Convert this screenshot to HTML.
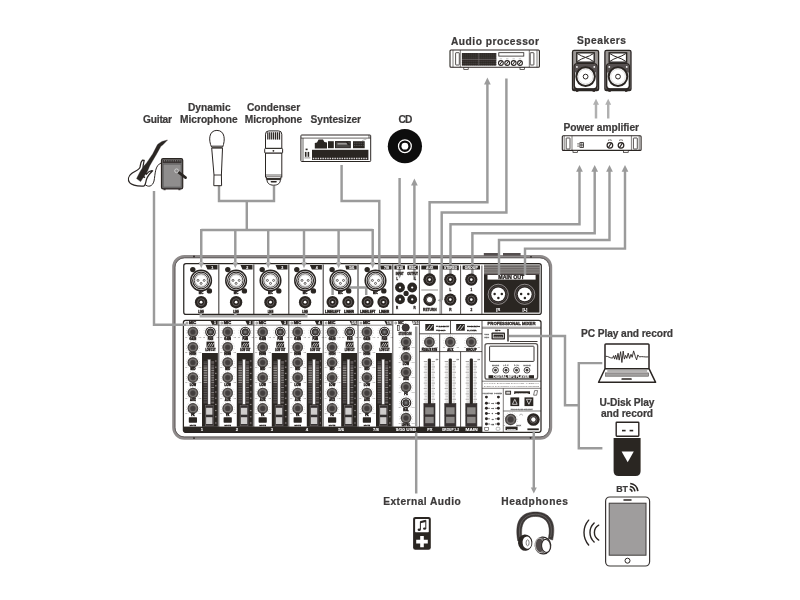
<!DOCTYPE html>
<html lang="en">
<head>
<meta charset="utf-8">
<title>Mixer connection diagram</title>
<style>
html,body{margin:0;padding:0;background:#fff;}
body{width:800px;height:600px;overflow:hidden;font-family:"Liberation Sans",sans-serif;}
svg{display:block;}
</style>
</head>
<body>
<svg width="800" height="600" viewBox="0 0 800 600" font-family="'Liberation Sans', sans-serif" font-weight="bold">
<rect width="800" height="600" fill="#fff"/>
<defs><filter id="soft" x="0" y="0" width="800" height="600" filterUnits="userSpaceOnUse"><feGaussianBlur stdDeviation="0.4"/></filter></defs>
<g filter="url(#soft)">
<g id="mixer-base">
<rect x="173.8" y="256.6" width="376.8" height="181.5" rx="10.5" fill="#fff" stroke="#8f8b8b" stroke-width="3.2" />
<rect x="174.9" y="257.7" width="374.6" height="179.3" rx="9.6" fill="none" stroke="#5f5a5a" stroke-width="0.9" />
<rect x="483.8" y="253" width="14.2" height="2.7" rx="0" fill="#55504f" stroke="none" stroke-width="1" />
<rect x="503" y="253" width="17.6" height="2.7" rx="0" fill="#55504f" stroke="none" stroke-width="1" />
<circle cx="194" cy="256.5" r="0.9" fill="#2a2523" stroke="none" stroke-width="1"/>
<circle cx="531" cy="256.8" r="0.9" fill="#2a2523" stroke="none" stroke-width="1"/>
<circle cx="194" cy="438.1" r="0.9" fill="#2a2523" stroke="none" stroke-width="1"/>
<circle cx="530.5" cy="437.8" r="0.9" fill="#2a2523" stroke="none" stroke-width="1"/>
<rect x="183.75" y="263.5" width="357.5" height="50.9" rx="2.2" fill="#fff" stroke="#2a2523" stroke-width="1.25" />
<rect x="183.4" y="320.4" width="357.6" height="111.9" rx="2.2" fill="#fff" stroke="#2a2523" stroke-width="1.25" />
<path d="M218.8 264.5 V313.9" stroke="#4a4645" stroke-width="1.15"/>
<path d="M253.8 264.5 V313.9" stroke="#4a4645" stroke-width="1.15"/>
<path d="M288.8 264.5 V313.9" stroke="#4a4645" stroke-width="1.15"/>
<path d="M323.2 264.5 V313.9" stroke="#4a4645" stroke-width="1.15"/>
<path d="M358 264.5 V313.9" stroke="#4a4645" stroke-width="1.15"/>
<path d="M392.8 264.5 V313.9" stroke="#4a4645" stroke-width="1.15"/>
<path d="M419.4 265.5 V313.9" stroke="#2a2523" stroke-width="0.8"/>
<path d="M460.6 265.5 V313.9" stroke="#2a2523" stroke-width="0.8"/>
<path d="M481.9 265.5 V313.9" stroke="#2a2523" stroke-width="0.8"/>
<path d="M440.1 265.5 V313.9 M441.6 265.5 V313.9" stroke="#2a2523" stroke-width="0.6"/>
<polygon points="205.5,265 217.5,265 217.5,269.4 207.5,269.4" fill="#2a2523"/>
<text x="212.3" y="268.9" font-size="3.6" text-anchor="middle" fill="#fff" stroke="#fff" stroke-width="0.1">1</text>
<polygon points="240.5,265 252.5,265 252.5,269.4 242.5,269.4" fill="#2a2523"/>
<text x="247.3" y="268.9" font-size="3.6" text-anchor="middle" fill="#fff" stroke="#fff" stroke-width="0.1">2</text>
<polygon points="275.5,265 287.5,265 287.5,269.4 277.5,269.4" fill="#2a2523"/>
<text x="282.3" y="268.9" font-size="3.6" text-anchor="middle" fill="#fff" stroke="#fff" stroke-width="0.1">3</text>
<polygon points="309.9,265 321.9,265 321.9,269.4 311.9,269.4" fill="#2a2523"/>
<text x="316.7" y="268.9" font-size="3.6" text-anchor="middle" fill="#fff" stroke="#fff" stroke-width="0.1">4</text>
<polygon points="345.2,265.4 356.7,265.4 356.7,269.4 346.2,269.4" fill="#2a2523"/>
<text x="351.75" y="268.9" font-size="3.6" text-anchor="middle" fill="#fff" stroke="#fff" stroke-width="0.1">5/6</text>
<polygon points="380,265.4 391.5,265.4 391.5,269.4 381,269.4" fill="#2a2523"/>
<text x="386.55" y="268.9" font-size="3.6" text-anchor="middle" fill="#fff" stroke="#fff" stroke-width="0.1">7/8</text>
<rect x="484" y="264.8" width="55.5" height="47.8" rx="0" fill="#2a2523" stroke="none" stroke-width="1" />
<rect x="484" y="264.8" width="55.5" height="9.5" rx="0" fill="#8a8684" stroke="none" stroke-width="1" />
<path d="M484 266.4 H539.5" stroke="#4d4948" stroke-width="0.55"/>
<path d="M484 268.7 H539.5" stroke="#4d4948" stroke-width="0.55"/>
<path d="M484 271 H539.5" stroke="#4d4948" stroke-width="0.55"/>
<path d="M484 273.3 H539.5" stroke="#4d4948" stroke-width="0.55"/>
<rect x="487.5" y="275" width="48.1" height="4.6" rx="0" fill="#fff" stroke="none" stroke-width="1" />
<text x="511.3" y="279.2" font-size="4.7" text-anchor="middle" textLength="26" lengthAdjust="spacingAndGlyphs" fill="#2a2523" stroke="#2a2523" stroke-width="0.28">MAIN OUT</text>
<circle cx="187" cy="323" r="1" fill="none" stroke="#2a2523" stroke-width="0.5"/>
<text x="192.6" y="324.3" font-size="3.3" text-anchor="middle" textLength="7.4" lengthAdjust="spacingAndGlyphs" fill="#2a2523" stroke="#2a2523" stroke-width="0.35">MIC</text>
<polygon points="210.5,321 217.7,321 217.7,324.8 212.3,324.8" fill="#2a2523"/>
<text x="214.9" y="324.3" font-size="3.6" text-anchor="middle" fill="#fff" stroke="#fff" stroke-width="0.1">1</text>
<path d="M184 325.2 H218.8" stroke="#2a2523" stroke-width="0.5"/>
<path d="M188.69 337.02 A6.55 6.55 0 1 1 197.11 337.02" fill="none" stroke="#8f8b8a" stroke-width="0.7" stroke-dasharray="0.45 1.75"/>
<circle cx="192.9" cy="332" r="4.7" fill="#787472" stroke="#35312f" stroke-width="1.25"/>
<circle cx="192.9" cy="332" r="4.7" fill="none" stroke="#706c6a" stroke-width="1.25" stroke-dasharray="0.5 0.9"/>
<circle cx="192.9" cy="332" r="2.55" fill="#423e3d" stroke="#4d4948" stroke-width="0.5"/>
<text x="186.05" y="337.65" font-size="1.9" text-anchor="middle" fill="#8a8685">-15</text>
<text x="199.75" y="337.65" font-size="1.9" text-anchor="middle" fill="#8a8685">+15</text>
<text x="192.9" y="339.9" font-size="2.7" text-anchor="middle" fill="#2a2523" stroke="#2a2523" stroke-width="0.42">GAIN</text>
<path d="M188.69 352.32 A6.55 6.55 0 1 1 197.11 352.32" fill="none" stroke="#8f8b8a" stroke-width="0.7" stroke-dasharray="0.45 1.75"/>
<circle cx="192.9" cy="347.3" r="4.7" fill="#787472" stroke="#35312f" stroke-width="1.25"/>
<circle cx="192.9" cy="347.3" r="4.7" fill="none" stroke="#706c6a" stroke-width="1.25" stroke-dasharray="0.5 0.9"/>
<circle cx="192.9" cy="347.3" r="2.55" fill="#423e3d" stroke="#4d4948" stroke-width="0.5"/>
<text x="186.05" y="352.95" font-size="1.9" text-anchor="middle" fill="#8a8685">-15</text>
<text x="199.75" y="352.95" font-size="1.9" text-anchor="middle" fill="#8a8685">+15</text>
<text x="192.9" y="355.2" font-size="2.7" text-anchor="middle" fill="#2a2523" stroke="#2a2523" stroke-width="0.42">HIGH</text>
<path d="M188.69 367.52 A6.55 6.55 0 1 1 197.11 367.52" fill="none" stroke="#8f8b8a" stroke-width="0.7" stroke-dasharray="0.45 1.75"/>
<circle cx="192.9" cy="362.5" r="4.7" fill="#787472" stroke="#35312f" stroke-width="1.25"/>
<circle cx="192.9" cy="362.5" r="4.7" fill="none" stroke="#706c6a" stroke-width="1.25" stroke-dasharray="0.5 0.9"/>
<circle cx="192.9" cy="362.5" r="2.55" fill="#423e3d" stroke="#4d4948" stroke-width="0.5"/>
<text x="186.05" y="368.15" font-size="1.9" text-anchor="middle" fill="#8a8685">-15</text>
<text x="199.75" y="368.15" font-size="1.9" text-anchor="middle" fill="#8a8685">+15</text>
<text x="192.9" y="370.4" font-size="2.7" text-anchor="middle" fill="#2a2523" stroke="#2a2523" stroke-width="0.42">MID</text>
<path d="M188.69 382.62 A6.55 6.55 0 1 1 197.11 382.62" fill="none" stroke="#8f8b8a" stroke-width="0.7" stroke-dasharray="0.45 1.75"/>
<circle cx="192.9" cy="377.6" r="4.7" fill="#787472" stroke="#35312f" stroke-width="1.25"/>
<circle cx="192.9" cy="377.6" r="4.7" fill="none" stroke="#706c6a" stroke-width="1.25" stroke-dasharray="0.5 0.9"/>
<circle cx="192.9" cy="377.6" r="2.55" fill="#423e3d" stroke="#4d4948" stroke-width="0.5"/>
<text x="186.05" y="383.25" font-size="1.9" text-anchor="middle" fill="#8a8685">-15</text>
<text x="199.75" y="383.25" font-size="1.9" text-anchor="middle" fill="#8a8685">+15</text>
<text x="192.9" y="385.5" font-size="2.7" text-anchor="middle" fill="#2a2523" stroke="#2a2523" stroke-width="0.42">LOW</text>
<path d="M188.69 398.12 A6.55 6.55 0 1 1 197.11 398.12" fill="none" stroke="#8f8b8a" stroke-width="0.7" stroke-dasharray="0.45 1.75"/>
<circle cx="192.9" cy="393.1" r="4.7" fill="#787472" stroke="#35312f" stroke-width="1.25"/>
<circle cx="192.9" cy="393.1" r="4.7" fill="none" stroke="#706c6a" stroke-width="1.25" stroke-dasharray="0.5 0.9"/>
<circle cx="192.9" cy="393.1" r="2.55" fill="#423e3d" stroke="#4d4948" stroke-width="0.5"/>
<text x="186.05" y="398.75" font-size="1.9" text-anchor="middle" fill="#8a8685">-15</text>
<text x="199.75" y="398.75" font-size="1.9" text-anchor="middle" fill="#8a8685">+15</text>
<text x="192.9" y="401" font-size="2.7" text-anchor="middle" fill="#2a2523" stroke="#2a2523" stroke-width="0.42">AUX</text>
<path d="M188.69 413.42 A6.55 6.55 0 1 1 197.11 413.42" fill="none" stroke="#8f8b8a" stroke-width="0.7" stroke-dasharray="0.45 1.75"/>
<circle cx="192.9" cy="408.4" r="4.7" fill="#787472" stroke="#35312f" stroke-width="1.25"/>
<circle cx="192.9" cy="408.4" r="4.7" fill="none" stroke="#706c6a" stroke-width="1.25" stroke-dasharray="0.5 0.9"/>
<circle cx="192.9" cy="408.4" r="2.55" fill="#423e3d" stroke="#4d4948" stroke-width="0.5"/>
<text x="186.05" y="414.05" font-size="1.9" text-anchor="middle" fill="#8a8685">-15</text>
<text x="199.75" y="414.05" font-size="1.9" text-anchor="middle" fill="#8a8685">+15</text>
<text x="192.9" y="416.3" font-size="2.7" text-anchor="middle" fill="#2a2523" stroke="#2a2523" stroke-width="0.42">FX</text>
<path d="M206.29 337.02 A6.55 6.55 0 1 1 214.71 337.02" fill="none" stroke="#8f8b8a" stroke-width="0.7" stroke-dasharray="0.45 1.75"/>
<circle cx="210.5" cy="332" r="4.75" fill="#fff" stroke="#2a2523" stroke-width="1.1"/>
<circle cx="210.5" cy="332" r="3.15" fill="#514d4c" stroke="#2a2523" stroke-width="1"/>
<circle cx="210.5" cy="332" r="1.2" fill="#777" stroke="none" stroke-width="1"/>
<text x="203.65" y="337.65" font-size="1.9" text-anchor="middle" fill="#8a8685">-15</text>
<text x="217.35" y="337.65" font-size="1.9" text-anchor="middle" fill="#8a8685">+15</text>
<text x="210.5" y="339.9" font-size="2.7" text-anchor="middle" fill="#2a2523" stroke="#2a2523" stroke-width="0.42">PAN</text>
<rect x="206.5" y="341.6" width="7.8" height="5.9" rx="0" fill="#2a2523" stroke="none" stroke-width="1" />
<path d="M207.5 346.6 l2.2 -3.6 M209.6 346.6 l2.2 -3.6 M211.7 346.6 l2.2 -3.6" stroke="#fff" stroke-width="0.7"/>
<text x="210.5" y="350.6" font-size="2.8" text-anchor="middle" textLength="10" lengthAdjust="spacingAndGlyphs" fill="#2a2523" stroke="#2a2523" stroke-width="0.4">LOW CUT</text>
<rect x="202" y="353" width="15.9" height="73.8" rx="0" fill="#2a2523" stroke="none" stroke-width="1" />
<rect x="207.9" y="359.4" width="2.6" height="44.8" rx="0" fill="#f4f4f4" stroke="#6d6968" stroke-width="0.4" />
<path d="M203.6 362 H207.2" stroke="#6f6b69" stroke-width="0.75"/>
<path d="M211.3 362 H214.1" stroke="#aeaaa8" stroke-width="0.75"/>
<path d="M203.6 363.7 H207.2" stroke="#6f6b69" stroke-width="0.75"/>
<path d="M211.3 363.7 H214.1" stroke="#726e6c" stroke-width="0.75"/>
<path d="M203.6 365.4 H207.2" stroke="#6f6b69" stroke-width="0.75"/>
<path d="M211.3 365.4 H214.1" stroke="#726e6c" stroke-width="0.75"/>
<path d="M203.6 367.1 H207.2" stroke="#c4c0be" stroke-width="0.75"/>
<path d="M211.3 367.1 H214.1" stroke="#aeaaa8" stroke-width="0.75"/>
<path d="M203.6 368.8 H207.2" stroke="#c4c0be" stroke-width="0.75"/>
<path d="M211.3 368.8 H214.1" stroke="#aeaaa8" stroke-width="0.75"/>
<path d="M203.6 370.5 H207.2" stroke="#c4c0be" stroke-width="0.75"/>
<path d="M211.3 370.5 H214.1" stroke="#aeaaa8" stroke-width="0.75"/>
<path d="M203.6 372.2 H207.2" stroke="#c4c0be" stroke-width="0.75"/>
<path d="M211.3 372.2 H214.1" stroke="#aeaaa8" stroke-width="0.75"/>
<path d="M203.6 373.9 H207.2" stroke="#c4c0be" stroke-width="0.75"/>
<path d="M211.3 373.9 H214.1" stroke="#aeaaa8" stroke-width="0.75"/>
<path d="M203.6 375.6 H207.2" stroke="#c4c0be" stroke-width="0.75"/>
<path d="M211.3 375.6 H214.1" stroke="#aeaaa8" stroke-width="0.75"/>
<path d="M203.6 377.3 H207.2" stroke="#c4c0be" stroke-width="0.75"/>
<path d="M211.3 377.3 H214.1" stroke="#aeaaa8" stroke-width="0.75"/>
<path d="M203.6 379 H207.2" stroke="#c4c0be" stroke-width="0.75"/>
<path d="M211.3 379 H214.1" stroke="#aeaaa8" stroke-width="0.75"/>
<path d="M203.6 380.7 H207.2" stroke="#c4c0be" stroke-width="0.75"/>
<path d="M211.3 380.7 H214.1" stroke="#aeaaa8" stroke-width="0.75"/>
<path d="M203.6 382.4 H207.2" stroke="#c4c0be" stroke-width="0.75"/>
<path d="M211.3 382.4 H214.1" stroke="#aeaaa8" stroke-width="0.75"/>
<path d="M203.6 384.1 H207.2" stroke="#6f6b69" stroke-width="0.75"/>
<path d="M211.3 384.1 H214.1" stroke="#726e6c" stroke-width="0.75"/>
<path d="M203.6 385.8 H207.2" stroke="#6f6b69" stroke-width="0.75"/>
<path d="M211.3 385.8 H214.1" stroke="#726e6c" stroke-width="0.75"/>
<path d="M203.6 387.5 H207.2" stroke="#6f6b69" stroke-width="0.75"/>
<path d="M211.3 387.5 H214.1" stroke="#aeaaa8" stroke-width="0.75"/>
<path d="M203.6 389.2 H207.2" stroke="#6f6b69" stroke-width="0.75"/>
<path d="M211.3 389.2 H214.1" stroke="#726e6c" stroke-width="0.75"/>
<path d="M203.6 390.9 H207.2" stroke="#6f6b69" stroke-width="0.75"/>
<path d="M211.3 390.9 H214.1" stroke="#726e6c" stroke-width="0.75"/>
<path d="M203.6 392.6 H207.2" stroke="#6f6b69" stroke-width="0.75"/>
<path d="M211.3 392.6 H214.1" stroke="#aeaaa8" stroke-width="0.75"/>
<path d="M203.6 394.3 H207.2" stroke="#6f6b69" stroke-width="0.75"/>
<path d="M211.3 394.3 H214.1" stroke="#726e6c" stroke-width="0.75"/>
<path d="M203.6 396 H207.2" stroke="#6f6b69" stroke-width="0.75"/>
<path d="M211.3 396 H214.1" stroke="#726e6c" stroke-width="0.75"/>
<path d="M203.6 397.7 H207.2" stroke="#6f6b69" stroke-width="0.75"/>
<path d="M211.3 397.7 H214.1" stroke="#aeaaa8" stroke-width="0.75"/>
<path d="M203.6 399.4 H207.2" stroke="#6f6b69" stroke-width="0.75"/>
<path d="M211.3 399.4 H214.1" stroke="#726e6c" stroke-width="0.75"/>
<path d="M203.6 401.1 H207.2" stroke="#6f6b69" stroke-width="0.75"/>
<path d="M211.3 401.1 H214.1" stroke="#726e6c" stroke-width="0.75"/>
<path d="M203.6 402.8 H207.2" stroke="#6f6b69" stroke-width="0.75"/>
<path d="M211.3 402.8 H214.1" stroke="#aeaaa8" stroke-width="0.75"/>
<path d="M215.1 361 H216.5" stroke="#bab6b4" stroke-width="0.8"/>
<path d="M215.1 367.2 H216.5" stroke="#bab6b4" stroke-width="0.8"/>
<path d="M215.1 373.4 H216.5" stroke="#bab6b4" stroke-width="0.8"/>
<path d="M215.1 379.6 H216.5" stroke="#bab6b4" stroke-width="0.8"/>
<path d="M215.1 385.8 H216.5" stroke="#bab6b4" stroke-width="0.8"/>
<path d="M215.1 392 H216.5" stroke="#bab6b4" stroke-width="0.8"/>
<path d="M215.1 398.2 H216.5" stroke="#bab6b4" stroke-width="0.8"/>
<path d="M215.1 404.4 H216.5" stroke="#bab6b4" stroke-width="0.8"/>
<path d="M215.1 410.6 H216.5" stroke="#bab6b4" stroke-width="0.8"/>
<path d="M215.1 416.8 H216.5" stroke="#bab6b4" stroke-width="0.8"/>
<path d="M215.1 423 H216.5" stroke="#bab6b4" stroke-width="0.8"/>
<rect x="205.3" y="405.4" width="7.9" height="20.4" rx="0" fill="#353130" stroke="#7a7674" stroke-width="0.5" />
<rect x="206.1" y="407.8" width="6.3" height="6.9" rx="0" fill="#cfcdcc" stroke="none" stroke-width="1" />
<rect x="206.1" y="417.2" width="6.3" height="6.8" rx="0" fill="#cfcdcc" stroke="none" stroke-width="1" />
<rect x="188.8" y="417.3" width="8.2" height="5.4" rx="0.6" fill="#2a2523" stroke="none" stroke-width="1" />
<text x="192.9" y="425.8" font-size="2.3" text-anchor="middle" fill="#2a2523" stroke="#2a2523" stroke-width="0.28">MUTE</text>
<circle cx="221.8" cy="323" r="1" fill="none" stroke="#2a2523" stroke-width="0.5"/>
<text x="227.4" y="324.3" font-size="3.3" text-anchor="middle" textLength="7.4" lengthAdjust="spacingAndGlyphs" fill="#2a2523" stroke="#2a2523" stroke-width="0.35">MIC</text>
<polygon points="245.5,321 252.7,321 252.7,324.8 247.3,324.8" fill="#2a2523"/>
<text x="249.9" y="324.3" font-size="3.6" text-anchor="middle" fill="#fff" stroke="#fff" stroke-width="0.1">2</text>
<path d="M218.8 325.2 H253.8" stroke="#2a2523" stroke-width="0.5"/>
<path d="M223.49 337.02 A6.55 6.55 0 1 1 231.91 337.02" fill="none" stroke="#8f8b8a" stroke-width="0.7" stroke-dasharray="0.45 1.75"/>
<circle cx="227.7" cy="332" r="4.7" fill="#787472" stroke="#35312f" stroke-width="1.25"/>
<circle cx="227.7" cy="332" r="4.7" fill="none" stroke="#706c6a" stroke-width="1.25" stroke-dasharray="0.5 0.9"/>
<circle cx="227.7" cy="332" r="2.55" fill="#423e3d" stroke="#4d4948" stroke-width="0.5"/>
<text x="220.85" y="337.65" font-size="1.9" text-anchor="middle" fill="#8a8685">-15</text>
<text x="234.55" y="337.65" font-size="1.9" text-anchor="middle" fill="#8a8685">+15</text>
<text x="227.7" y="339.9" font-size="2.7" text-anchor="middle" fill="#2a2523" stroke="#2a2523" stroke-width="0.42">GAIN</text>
<path d="M223.49 352.32 A6.55 6.55 0 1 1 231.91 352.32" fill="none" stroke="#8f8b8a" stroke-width="0.7" stroke-dasharray="0.45 1.75"/>
<circle cx="227.7" cy="347.3" r="4.7" fill="#787472" stroke="#35312f" stroke-width="1.25"/>
<circle cx="227.7" cy="347.3" r="4.7" fill="none" stroke="#706c6a" stroke-width="1.25" stroke-dasharray="0.5 0.9"/>
<circle cx="227.7" cy="347.3" r="2.55" fill="#423e3d" stroke="#4d4948" stroke-width="0.5"/>
<text x="220.85" y="352.95" font-size="1.9" text-anchor="middle" fill="#8a8685">-15</text>
<text x="234.55" y="352.95" font-size="1.9" text-anchor="middle" fill="#8a8685">+15</text>
<text x="227.7" y="355.2" font-size="2.7" text-anchor="middle" fill="#2a2523" stroke="#2a2523" stroke-width="0.42">HIGH</text>
<path d="M223.49 367.52 A6.55 6.55 0 1 1 231.91 367.52" fill="none" stroke="#8f8b8a" stroke-width="0.7" stroke-dasharray="0.45 1.75"/>
<circle cx="227.7" cy="362.5" r="4.7" fill="#787472" stroke="#35312f" stroke-width="1.25"/>
<circle cx="227.7" cy="362.5" r="4.7" fill="none" stroke="#706c6a" stroke-width="1.25" stroke-dasharray="0.5 0.9"/>
<circle cx="227.7" cy="362.5" r="2.55" fill="#423e3d" stroke="#4d4948" stroke-width="0.5"/>
<text x="220.85" y="368.15" font-size="1.9" text-anchor="middle" fill="#8a8685">-15</text>
<text x="234.55" y="368.15" font-size="1.9" text-anchor="middle" fill="#8a8685">+15</text>
<text x="227.7" y="370.4" font-size="2.7" text-anchor="middle" fill="#2a2523" stroke="#2a2523" stroke-width="0.42">MID</text>
<path d="M223.49 382.62 A6.55 6.55 0 1 1 231.91 382.62" fill="none" stroke="#8f8b8a" stroke-width="0.7" stroke-dasharray="0.45 1.75"/>
<circle cx="227.7" cy="377.6" r="4.7" fill="#787472" stroke="#35312f" stroke-width="1.25"/>
<circle cx="227.7" cy="377.6" r="4.7" fill="none" stroke="#706c6a" stroke-width="1.25" stroke-dasharray="0.5 0.9"/>
<circle cx="227.7" cy="377.6" r="2.55" fill="#423e3d" stroke="#4d4948" stroke-width="0.5"/>
<text x="220.85" y="383.25" font-size="1.9" text-anchor="middle" fill="#8a8685">-15</text>
<text x="234.55" y="383.25" font-size="1.9" text-anchor="middle" fill="#8a8685">+15</text>
<text x="227.7" y="385.5" font-size="2.7" text-anchor="middle" fill="#2a2523" stroke="#2a2523" stroke-width="0.42">LOW</text>
<path d="M223.49 398.12 A6.55 6.55 0 1 1 231.91 398.12" fill="none" stroke="#8f8b8a" stroke-width="0.7" stroke-dasharray="0.45 1.75"/>
<circle cx="227.7" cy="393.1" r="4.7" fill="#787472" stroke="#35312f" stroke-width="1.25"/>
<circle cx="227.7" cy="393.1" r="4.7" fill="none" stroke="#706c6a" stroke-width="1.25" stroke-dasharray="0.5 0.9"/>
<circle cx="227.7" cy="393.1" r="2.55" fill="#423e3d" stroke="#4d4948" stroke-width="0.5"/>
<text x="220.85" y="398.75" font-size="1.9" text-anchor="middle" fill="#8a8685">-15</text>
<text x="234.55" y="398.75" font-size="1.9" text-anchor="middle" fill="#8a8685">+15</text>
<text x="227.7" y="401" font-size="2.7" text-anchor="middle" fill="#2a2523" stroke="#2a2523" stroke-width="0.42">AUX</text>
<path d="M223.49 413.42 A6.55 6.55 0 1 1 231.91 413.42" fill="none" stroke="#8f8b8a" stroke-width="0.7" stroke-dasharray="0.45 1.75"/>
<circle cx="227.7" cy="408.4" r="4.7" fill="#787472" stroke="#35312f" stroke-width="1.25"/>
<circle cx="227.7" cy="408.4" r="4.7" fill="none" stroke="#706c6a" stroke-width="1.25" stroke-dasharray="0.5 0.9"/>
<circle cx="227.7" cy="408.4" r="2.55" fill="#423e3d" stroke="#4d4948" stroke-width="0.5"/>
<text x="220.85" y="414.05" font-size="1.9" text-anchor="middle" fill="#8a8685">-15</text>
<text x="234.55" y="414.05" font-size="1.9" text-anchor="middle" fill="#8a8685">+15</text>
<text x="227.7" y="416.3" font-size="2.7" text-anchor="middle" fill="#2a2523" stroke="#2a2523" stroke-width="0.42">FX</text>
<path d="M241.09 337.02 A6.55 6.55 0 1 1 249.51 337.02" fill="none" stroke="#8f8b8a" stroke-width="0.7" stroke-dasharray="0.45 1.75"/>
<circle cx="245.3" cy="332" r="4.75" fill="#fff" stroke="#2a2523" stroke-width="1.1"/>
<circle cx="245.3" cy="332" r="3.15" fill="#514d4c" stroke="#2a2523" stroke-width="1"/>
<circle cx="245.3" cy="332" r="1.2" fill="#777" stroke="none" stroke-width="1"/>
<text x="238.45" y="337.65" font-size="1.9" text-anchor="middle" fill="#8a8685">-15</text>
<text x="252.15" y="337.65" font-size="1.9" text-anchor="middle" fill="#8a8685">+15</text>
<text x="245.3" y="339.9" font-size="2.7" text-anchor="middle" fill="#2a2523" stroke="#2a2523" stroke-width="0.42">PAN</text>
<rect x="241.3" y="341.6" width="7.8" height="5.9" rx="0" fill="#2a2523" stroke="none" stroke-width="1" />
<path d="M242.3 346.6 l2.2 -3.6 M244.4 346.6 l2.2 -3.6 M246.5 346.6 l2.2 -3.6" stroke="#fff" stroke-width="0.7"/>
<text x="245.3" y="350.6" font-size="2.8" text-anchor="middle" textLength="10" lengthAdjust="spacingAndGlyphs" fill="#2a2523" stroke="#2a2523" stroke-width="0.4">LOW CUT</text>
<rect x="236.8" y="353" width="16.1" height="73.8" rx="0" fill="#2a2523" stroke="none" stroke-width="1" />
<rect x="242.7" y="359.4" width="2.6" height="44.8" rx="0" fill="#f4f4f4" stroke="#6d6968" stroke-width="0.4" />
<path d="M238.4 362 H242" stroke="#6f6b69" stroke-width="0.75"/>
<path d="M246.1 362 H248.9" stroke="#aeaaa8" stroke-width="0.75"/>
<path d="M238.4 363.7 H242" stroke="#6f6b69" stroke-width="0.75"/>
<path d="M246.1 363.7 H248.9" stroke="#726e6c" stroke-width="0.75"/>
<path d="M238.4 365.4 H242" stroke="#6f6b69" stroke-width="0.75"/>
<path d="M246.1 365.4 H248.9" stroke="#726e6c" stroke-width="0.75"/>
<path d="M238.4 367.1 H242" stroke="#c4c0be" stroke-width="0.75"/>
<path d="M246.1 367.1 H248.9" stroke="#aeaaa8" stroke-width="0.75"/>
<path d="M238.4 368.8 H242" stroke="#c4c0be" stroke-width="0.75"/>
<path d="M246.1 368.8 H248.9" stroke="#aeaaa8" stroke-width="0.75"/>
<path d="M238.4 370.5 H242" stroke="#c4c0be" stroke-width="0.75"/>
<path d="M246.1 370.5 H248.9" stroke="#aeaaa8" stroke-width="0.75"/>
<path d="M238.4 372.2 H242" stroke="#c4c0be" stroke-width="0.75"/>
<path d="M246.1 372.2 H248.9" stroke="#aeaaa8" stroke-width="0.75"/>
<path d="M238.4 373.9 H242" stroke="#c4c0be" stroke-width="0.75"/>
<path d="M246.1 373.9 H248.9" stroke="#aeaaa8" stroke-width="0.75"/>
<path d="M238.4 375.6 H242" stroke="#c4c0be" stroke-width="0.75"/>
<path d="M246.1 375.6 H248.9" stroke="#aeaaa8" stroke-width="0.75"/>
<path d="M238.4 377.3 H242" stroke="#c4c0be" stroke-width="0.75"/>
<path d="M246.1 377.3 H248.9" stroke="#aeaaa8" stroke-width="0.75"/>
<path d="M238.4 379 H242" stroke="#c4c0be" stroke-width="0.75"/>
<path d="M246.1 379 H248.9" stroke="#aeaaa8" stroke-width="0.75"/>
<path d="M238.4 380.7 H242" stroke="#c4c0be" stroke-width="0.75"/>
<path d="M246.1 380.7 H248.9" stroke="#aeaaa8" stroke-width="0.75"/>
<path d="M238.4 382.4 H242" stroke="#c4c0be" stroke-width="0.75"/>
<path d="M246.1 382.4 H248.9" stroke="#aeaaa8" stroke-width="0.75"/>
<path d="M238.4 384.1 H242" stroke="#6f6b69" stroke-width="0.75"/>
<path d="M246.1 384.1 H248.9" stroke="#726e6c" stroke-width="0.75"/>
<path d="M238.4 385.8 H242" stroke="#6f6b69" stroke-width="0.75"/>
<path d="M246.1 385.8 H248.9" stroke="#726e6c" stroke-width="0.75"/>
<path d="M238.4 387.5 H242" stroke="#6f6b69" stroke-width="0.75"/>
<path d="M246.1 387.5 H248.9" stroke="#aeaaa8" stroke-width="0.75"/>
<path d="M238.4 389.2 H242" stroke="#6f6b69" stroke-width="0.75"/>
<path d="M246.1 389.2 H248.9" stroke="#726e6c" stroke-width="0.75"/>
<path d="M238.4 390.9 H242" stroke="#6f6b69" stroke-width="0.75"/>
<path d="M246.1 390.9 H248.9" stroke="#726e6c" stroke-width="0.75"/>
<path d="M238.4 392.6 H242" stroke="#6f6b69" stroke-width="0.75"/>
<path d="M246.1 392.6 H248.9" stroke="#aeaaa8" stroke-width="0.75"/>
<path d="M238.4 394.3 H242" stroke="#6f6b69" stroke-width="0.75"/>
<path d="M246.1 394.3 H248.9" stroke="#726e6c" stroke-width="0.75"/>
<path d="M238.4 396 H242" stroke="#6f6b69" stroke-width="0.75"/>
<path d="M246.1 396 H248.9" stroke="#726e6c" stroke-width="0.75"/>
<path d="M238.4 397.7 H242" stroke="#6f6b69" stroke-width="0.75"/>
<path d="M246.1 397.7 H248.9" stroke="#aeaaa8" stroke-width="0.75"/>
<path d="M238.4 399.4 H242" stroke="#6f6b69" stroke-width="0.75"/>
<path d="M246.1 399.4 H248.9" stroke="#726e6c" stroke-width="0.75"/>
<path d="M238.4 401.1 H242" stroke="#6f6b69" stroke-width="0.75"/>
<path d="M246.1 401.1 H248.9" stroke="#726e6c" stroke-width="0.75"/>
<path d="M238.4 402.8 H242" stroke="#6f6b69" stroke-width="0.75"/>
<path d="M246.1 402.8 H248.9" stroke="#aeaaa8" stroke-width="0.75"/>
<path d="M249.9 361 H251.5" stroke="#bab6b4" stroke-width="0.8"/>
<path d="M249.9 367.2 H251.5" stroke="#bab6b4" stroke-width="0.8"/>
<path d="M249.9 373.4 H251.5" stroke="#bab6b4" stroke-width="0.8"/>
<path d="M249.9 379.6 H251.5" stroke="#bab6b4" stroke-width="0.8"/>
<path d="M249.9 385.8 H251.5" stroke="#bab6b4" stroke-width="0.8"/>
<path d="M249.9 392 H251.5" stroke="#bab6b4" stroke-width="0.8"/>
<path d="M249.9 398.2 H251.5" stroke="#bab6b4" stroke-width="0.8"/>
<path d="M249.9 404.4 H251.5" stroke="#bab6b4" stroke-width="0.8"/>
<path d="M249.9 410.6 H251.5" stroke="#bab6b4" stroke-width="0.8"/>
<path d="M249.9 416.8 H251.5" stroke="#bab6b4" stroke-width="0.8"/>
<path d="M249.9 423 H251.5" stroke="#bab6b4" stroke-width="0.8"/>
<rect x="240.1" y="405.4" width="7.9" height="20.4" rx="0" fill="#353130" stroke="#7a7674" stroke-width="0.5" />
<rect x="240.9" y="407.8" width="6.3" height="6.9" rx="0" fill="#cfcdcc" stroke="none" stroke-width="1" />
<rect x="240.9" y="417.2" width="6.3" height="6.8" rx="0" fill="#cfcdcc" stroke="none" stroke-width="1" />
<rect x="223.6" y="417.3" width="8.2" height="5.4" rx="0.6" fill="#2a2523" stroke="none" stroke-width="1" />
<text x="227.7" y="425.8" font-size="2.3" text-anchor="middle" fill="#2a2523" stroke="#2a2523" stroke-width="0.28">MUTE</text>
<circle cx="256.8" cy="323" r="1" fill="none" stroke="#2a2523" stroke-width="0.5"/>
<text x="262.4" y="324.3" font-size="3.3" text-anchor="middle" textLength="7.4" lengthAdjust="spacingAndGlyphs" fill="#2a2523" stroke="#2a2523" stroke-width="0.35">MIC</text>
<polygon points="280.5,321 287.7,321 287.7,324.8 282.3,324.8" fill="#2a2523"/>
<text x="284.9" y="324.3" font-size="3.6" text-anchor="middle" fill="#fff" stroke="#fff" stroke-width="0.1">3</text>
<path d="M253.8 325.2 H288.8" stroke="#2a2523" stroke-width="0.5"/>
<path d="M258.49 337.02 A6.55 6.55 0 1 1 266.91 337.02" fill="none" stroke="#8f8b8a" stroke-width="0.7" stroke-dasharray="0.45 1.75"/>
<circle cx="262.7" cy="332" r="4.7" fill="#787472" stroke="#35312f" stroke-width="1.25"/>
<circle cx="262.7" cy="332" r="4.7" fill="none" stroke="#706c6a" stroke-width="1.25" stroke-dasharray="0.5 0.9"/>
<circle cx="262.7" cy="332" r="2.55" fill="#423e3d" stroke="#4d4948" stroke-width="0.5"/>
<text x="255.85" y="337.65" font-size="1.9" text-anchor="middle" fill="#8a8685">-15</text>
<text x="269.55" y="337.65" font-size="1.9" text-anchor="middle" fill="#8a8685">+15</text>
<text x="262.7" y="339.9" font-size="2.7" text-anchor="middle" fill="#2a2523" stroke="#2a2523" stroke-width="0.42">GAIN</text>
<path d="M258.49 352.32 A6.55 6.55 0 1 1 266.91 352.32" fill="none" stroke="#8f8b8a" stroke-width="0.7" stroke-dasharray="0.45 1.75"/>
<circle cx="262.7" cy="347.3" r="4.7" fill="#787472" stroke="#35312f" stroke-width="1.25"/>
<circle cx="262.7" cy="347.3" r="4.7" fill="none" stroke="#706c6a" stroke-width="1.25" stroke-dasharray="0.5 0.9"/>
<circle cx="262.7" cy="347.3" r="2.55" fill="#423e3d" stroke="#4d4948" stroke-width="0.5"/>
<text x="255.85" y="352.95" font-size="1.9" text-anchor="middle" fill="#8a8685">-15</text>
<text x="269.55" y="352.95" font-size="1.9" text-anchor="middle" fill="#8a8685">+15</text>
<text x="262.7" y="355.2" font-size="2.7" text-anchor="middle" fill="#2a2523" stroke="#2a2523" stroke-width="0.42">HIGH</text>
<path d="M258.49 367.52 A6.55 6.55 0 1 1 266.91 367.52" fill="none" stroke="#8f8b8a" stroke-width="0.7" stroke-dasharray="0.45 1.75"/>
<circle cx="262.7" cy="362.5" r="4.7" fill="#787472" stroke="#35312f" stroke-width="1.25"/>
<circle cx="262.7" cy="362.5" r="4.7" fill="none" stroke="#706c6a" stroke-width="1.25" stroke-dasharray="0.5 0.9"/>
<circle cx="262.7" cy="362.5" r="2.55" fill="#423e3d" stroke="#4d4948" stroke-width="0.5"/>
<text x="255.85" y="368.15" font-size="1.9" text-anchor="middle" fill="#8a8685">-15</text>
<text x="269.55" y="368.15" font-size="1.9" text-anchor="middle" fill="#8a8685">+15</text>
<text x="262.7" y="370.4" font-size="2.7" text-anchor="middle" fill="#2a2523" stroke="#2a2523" stroke-width="0.42">MID</text>
<path d="M258.49 382.62 A6.55 6.55 0 1 1 266.91 382.62" fill="none" stroke="#8f8b8a" stroke-width="0.7" stroke-dasharray="0.45 1.75"/>
<circle cx="262.7" cy="377.6" r="4.7" fill="#787472" stroke="#35312f" stroke-width="1.25"/>
<circle cx="262.7" cy="377.6" r="4.7" fill="none" stroke="#706c6a" stroke-width="1.25" stroke-dasharray="0.5 0.9"/>
<circle cx="262.7" cy="377.6" r="2.55" fill="#423e3d" stroke="#4d4948" stroke-width="0.5"/>
<text x="255.85" y="383.25" font-size="1.9" text-anchor="middle" fill="#8a8685">-15</text>
<text x="269.55" y="383.25" font-size="1.9" text-anchor="middle" fill="#8a8685">+15</text>
<text x="262.7" y="385.5" font-size="2.7" text-anchor="middle" fill="#2a2523" stroke="#2a2523" stroke-width="0.42">LOW</text>
<path d="M258.49 398.12 A6.55 6.55 0 1 1 266.91 398.12" fill="none" stroke="#8f8b8a" stroke-width="0.7" stroke-dasharray="0.45 1.75"/>
<circle cx="262.7" cy="393.1" r="4.7" fill="#787472" stroke="#35312f" stroke-width="1.25"/>
<circle cx="262.7" cy="393.1" r="4.7" fill="none" stroke="#706c6a" stroke-width="1.25" stroke-dasharray="0.5 0.9"/>
<circle cx="262.7" cy="393.1" r="2.55" fill="#423e3d" stroke="#4d4948" stroke-width="0.5"/>
<text x="255.85" y="398.75" font-size="1.9" text-anchor="middle" fill="#8a8685">-15</text>
<text x="269.55" y="398.75" font-size="1.9" text-anchor="middle" fill="#8a8685">+15</text>
<text x="262.7" y="401" font-size="2.7" text-anchor="middle" fill="#2a2523" stroke="#2a2523" stroke-width="0.42">AUX</text>
<path d="M258.49 413.42 A6.55 6.55 0 1 1 266.91 413.42" fill="none" stroke="#8f8b8a" stroke-width="0.7" stroke-dasharray="0.45 1.75"/>
<circle cx="262.7" cy="408.4" r="4.7" fill="#787472" stroke="#35312f" stroke-width="1.25"/>
<circle cx="262.7" cy="408.4" r="4.7" fill="none" stroke="#706c6a" stroke-width="1.25" stroke-dasharray="0.5 0.9"/>
<circle cx="262.7" cy="408.4" r="2.55" fill="#423e3d" stroke="#4d4948" stroke-width="0.5"/>
<text x="255.85" y="414.05" font-size="1.9" text-anchor="middle" fill="#8a8685">-15</text>
<text x="269.55" y="414.05" font-size="1.9" text-anchor="middle" fill="#8a8685">+15</text>
<text x="262.7" y="416.3" font-size="2.7" text-anchor="middle" fill="#2a2523" stroke="#2a2523" stroke-width="0.42">FX</text>
<path d="M276.09 337.02 A6.55 6.55 0 1 1 284.51 337.02" fill="none" stroke="#8f8b8a" stroke-width="0.7" stroke-dasharray="0.45 1.75"/>
<circle cx="280.3" cy="332" r="4.75" fill="#fff" stroke="#2a2523" stroke-width="1.1"/>
<circle cx="280.3" cy="332" r="3.15" fill="#514d4c" stroke="#2a2523" stroke-width="1"/>
<circle cx="280.3" cy="332" r="1.2" fill="#777" stroke="none" stroke-width="1"/>
<text x="273.45" y="337.65" font-size="1.9" text-anchor="middle" fill="#8a8685">-15</text>
<text x="287.15" y="337.65" font-size="1.9" text-anchor="middle" fill="#8a8685">+15</text>
<text x="280.3" y="339.9" font-size="2.7" text-anchor="middle" fill="#2a2523" stroke="#2a2523" stroke-width="0.42">PAN</text>
<rect x="276.3" y="341.6" width="7.8" height="5.9" rx="0" fill="#2a2523" stroke="none" stroke-width="1" />
<path d="M277.3 346.6 l2.2 -3.6 M279.4 346.6 l2.2 -3.6 M281.5 346.6 l2.2 -3.6" stroke="#fff" stroke-width="0.7"/>
<text x="280.3" y="350.6" font-size="2.8" text-anchor="middle" textLength="10" lengthAdjust="spacingAndGlyphs" fill="#2a2523" stroke="#2a2523" stroke-width="0.4">LOW CUT</text>
<rect x="271.8" y="353" width="16.1" height="73.8" rx="0" fill="#2a2523" stroke="none" stroke-width="1" />
<rect x="277.7" y="359.4" width="2.6" height="44.8" rx="0" fill="#f4f4f4" stroke="#6d6968" stroke-width="0.4" />
<path d="M273.4 362 H277" stroke="#6f6b69" stroke-width="0.75"/>
<path d="M281.1 362 H283.9" stroke="#aeaaa8" stroke-width="0.75"/>
<path d="M273.4 363.7 H277" stroke="#6f6b69" stroke-width="0.75"/>
<path d="M281.1 363.7 H283.9" stroke="#726e6c" stroke-width="0.75"/>
<path d="M273.4 365.4 H277" stroke="#6f6b69" stroke-width="0.75"/>
<path d="M281.1 365.4 H283.9" stroke="#726e6c" stroke-width="0.75"/>
<path d="M273.4 367.1 H277" stroke="#c4c0be" stroke-width="0.75"/>
<path d="M281.1 367.1 H283.9" stroke="#aeaaa8" stroke-width="0.75"/>
<path d="M273.4 368.8 H277" stroke="#c4c0be" stroke-width="0.75"/>
<path d="M281.1 368.8 H283.9" stroke="#aeaaa8" stroke-width="0.75"/>
<path d="M273.4 370.5 H277" stroke="#c4c0be" stroke-width="0.75"/>
<path d="M281.1 370.5 H283.9" stroke="#aeaaa8" stroke-width="0.75"/>
<path d="M273.4 372.2 H277" stroke="#c4c0be" stroke-width="0.75"/>
<path d="M281.1 372.2 H283.9" stroke="#aeaaa8" stroke-width="0.75"/>
<path d="M273.4 373.9 H277" stroke="#c4c0be" stroke-width="0.75"/>
<path d="M281.1 373.9 H283.9" stroke="#aeaaa8" stroke-width="0.75"/>
<path d="M273.4 375.6 H277" stroke="#c4c0be" stroke-width="0.75"/>
<path d="M281.1 375.6 H283.9" stroke="#aeaaa8" stroke-width="0.75"/>
<path d="M273.4 377.3 H277" stroke="#c4c0be" stroke-width="0.75"/>
<path d="M281.1 377.3 H283.9" stroke="#aeaaa8" stroke-width="0.75"/>
<path d="M273.4 379 H277" stroke="#c4c0be" stroke-width="0.75"/>
<path d="M281.1 379 H283.9" stroke="#aeaaa8" stroke-width="0.75"/>
<path d="M273.4 380.7 H277" stroke="#c4c0be" stroke-width="0.75"/>
<path d="M281.1 380.7 H283.9" stroke="#aeaaa8" stroke-width="0.75"/>
<path d="M273.4 382.4 H277" stroke="#c4c0be" stroke-width="0.75"/>
<path d="M281.1 382.4 H283.9" stroke="#aeaaa8" stroke-width="0.75"/>
<path d="M273.4 384.1 H277" stroke="#6f6b69" stroke-width="0.75"/>
<path d="M281.1 384.1 H283.9" stroke="#726e6c" stroke-width="0.75"/>
<path d="M273.4 385.8 H277" stroke="#6f6b69" stroke-width="0.75"/>
<path d="M281.1 385.8 H283.9" stroke="#726e6c" stroke-width="0.75"/>
<path d="M273.4 387.5 H277" stroke="#6f6b69" stroke-width="0.75"/>
<path d="M281.1 387.5 H283.9" stroke="#aeaaa8" stroke-width="0.75"/>
<path d="M273.4 389.2 H277" stroke="#6f6b69" stroke-width="0.75"/>
<path d="M281.1 389.2 H283.9" stroke="#726e6c" stroke-width="0.75"/>
<path d="M273.4 390.9 H277" stroke="#6f6b69" stroke-width="0.75"/>
<path d="M281.1 390.9 H283.9" stroke="#726e6c" stroke-width="0.75"/>
<path d="M273.4 392.6 H277" stroke="#6f6b69" stroke-width="0.75"/>
<path d="M281.1 392.6 H283.9" stroke="#aeaaa8" stroke-width="0.75"/>
<path d="M273.4 394.3 H277" stroke="#6f6b69" stroke-width="0.75"/>
<path d="M281.1 394.3 H283.9" stroke="#726e6c" stroke-width="0.75"/>
<path d="M273.4 396 H277" stroke="#6f6b69" stroke-width="0.75"/>
<path d="M281.1 396 H283.9" stroke="#726e6c" stroke-width="0.75"/>
<path d="M273.4 397.7 H277" stroke="#6f6b69" stroke-width="0.75"/>
<path d="M281.1 397.7 H283.9" stroke="#aeaaa8" stroke-width="0.75"/>
<path d="M273.4 399.4 H277" stroke="#6f6b69" stroke-width="0.75"/>
<path d="M281.1 399.4 H283.9" stroke="#726e6c" stroke-width="0.75"/>
<path d="M273.4 401.1 H277" stroke="#6f6b69" stroke-width="0.75"/>
<path d="M281.1 401.1 H283.9" stroke="#726e6c" stroke-width="0.75"/>
<path d="M273.4 402.8 H277" stroke="#6f6b69" stroke-width="0.75"/>
<path d="M281.1 402.8 H283.9" stroke="#aeaaa8" stroke-width="0.75"/>
<path d="M284.9 361 H286.5" stroke="#bab6b4" stroke-width="0.8"/>
<path d="M284.9 367.2 H286.5" stroke="#bab6b4" stroke-width="0.8"/>
<path d="M284.9 373.4 H286.5" stroke="#bab6b4" stroke-width="0.8"/>
<path d="M284.9 379.6 H286.5" stroke="#bab6b4" stroke-width="0.8"/>
<path d="M284.9 385.8 H286.5" stroke="#bab6b4" stroke-width="0.8"/>
<path d="M284.9 392 H286.5" stroke="#bab6b4" stroke-width="0.8"/>
<path d="M284.9 398.2 H286.5" stroke="#bab6b4" stroke-width="0.8"/>
<path d="M284.9 404.4 H286.5" stroke="#bab6b4" stroke-width="0.8"/>
<path d="M284.9 410.6 H286.5" stroke="#bab6b4" stroke-width="0.8"/>
<path d="M284.9 416.8 H286.5" stroke="#bab6b4" stroke-width="0.8"/>
<path d="M284.9 423 H286.5" stroke="#bab6b4" stroke-width="0.8"/>
<rect x="275.1" y="405.4" width="7.9" height="20.4" rx="0" fill="#353130" stroke="#7a7674" stroke-width="0.5" />
<rect x="275.9" y="407.8" width="6.3" height="6.9" rx="0" fill="#cfcdcc" stroke="none" stroke-width="1" />
<rect x="275.9" y="417.2" width="6.3" height="6.8" rx="0" fill="#cfcdcc" stroke="none" stroke-width="1" />
<rect x="258.6" y="417.3" width="8.2" height="5.4" rx="0.6" fill="#2a2523" stroke="none" stroke-width="1" />
<text x="262.7" y="425.8" font-size="2.3" text-anchor="middle" fill="#2a2523" stroke="#2a2523" stroke-width="0.28">MUTE</text>
<circle cx="291.8" cy="323" r="1" fill="none" stroke="#2a2523" stroke-width="0.5"/>
<text x="297.4" y="324.3" font-size="3.3" text-anchor="middle" textLength="7.4" lengthAdjust="spacingAndGlyphs" fill="#2a2523" stroke="#2a2523" stroke-width="0.35">MIC</text>
<polygon points="314.9,321 322.1,321 322.1,324.8 316.7,324.8" fill="#2a2523"/>
<text x="319.3" y="324.3" font-size="3.6" text-anchor="middle" fill="#fff" stroke="#fff" stroke-width="0.1">4</text>
<path d="M288.8 325.2 H323.2" stroke="#2a2523" stroke-width="0.5"/>
<path d="M293.49 337.02 A6.55 6.55 0 1 1 301.91 337.02" fill="none" stroke="#8f8b8a" stroke-width="0.7" stroke-dasharray="0.45 1.75"/>
<circle cx="297.7" cy="332" r="4.7" fill="#787472" stroke="#35312f" stroke-width="1.25"/>
<circle cx="297.7" cy="332" r="4.7" fill="none" stroke="#706c6a" stroke-width="1.25" stroke-dasharray="0.5 0.9"/>
<circle cx="297.7" cy="332" r="2.55" fill="#423e3d" stroke="#4d4948" stroke-width="0.5"/>
<text x="290.85" y="337.65" font-size="1.9" text-anchor="middle" fill="#8a8685">-15</text>
<text x="304.55" y="337.65" font-size="1.9" text-anchor="middle" fill="#8a8685">+15</text>
<text x="297.7" y="339.9" font-size="2.7" text-anchor="middle" fill="#2a2523" stroke="#2a2523" stroke-width="0.42">GAIN</text>
<path d="M293.49 352.32 A6.55 6.55 0 1 1 301.91 352.32" fill="none" stroke="#8f8b8a" stroke-width="0.7" stroke-dasharray="0.45 1.75"/>
<circle cx="297.7" cy="347.3" r="4.7" fill="#787472" stroke="#35312f" stroke-width="1.25"/>
<circle cx="297.7" cy="347.3" r="4.7" fill="none" stroke="#706c6a" stroke-width="1.25" stroke-dasharray="0.5 0.9"/>
<circle cx="297.7" cy="347.3" r="2.55" fill="#423e3d" stroke="#4d4948" stroke-width="0.5"/>
<text x="290.85" y="352.95" font-size="1.9" text-anchor="middle" fill="#8a8685">-15</text>
<text x="304.55" y="352.95" font-size="1.9" text-anchor="middle" fill="#8a8685">+15</text>
<text x="297.7" y="355.2" font-size="2.7" text-anchor="middle" fill="#2a2523" stroke="#2a2523" stroke-width="0.42">HIGH</text>
<path d="M293.49 367.52 A6.55 6.55 0 1 1 301.91 367.52" fill="none" stroke="#8f8b8a" stroke-width="0.7" stroke-dasharray="0.45 1.75"/>
<circle cx="297.7" cy="362.5" r="4.7" fill="#787472" stroke="#35312f" stroke-width="1.25"/>
<circle cx="297.7" cy="362.5" r="4.7" fill="none" stroke="#706c6a" stroke-width="1.25" stroke-dasharray="0.5 0.9"/>
<circle cx="297.7" cy="362.5" r="2.55" fill="#423e3d" stroke="#4d4948" stroke-width="0.5"/>
<text x="290.85" y="368.15" font-size="1.9" text-anchor="middle" fill="#8a8685">-15</text>
<text x="304.55" y="368.15" font-size="1.9" text-anchor="middle" fill="#8a8685">+15</text>
<text x="297.7" y="370.4" font-size="2.7" text-anchor="middle" fill="#2a2523" stroke="#2a2523" stroke-width="0.42">MID</text>
<path d="M293.49 382.62 A6.55 6.55 0 1 1 301.91 382.62" fill="none" stroke="#8f8b8a" stroke-width="0.7" stroke-dasharray="0.45 1.75"/>
<circle cx="297.7" cy="377.6" r="4.7" fill="#787472" stroke="#35312f" stroke-width="1.25"/>
<circle cx="297.7" cy="377.6" r="4.7" fill="none" stroke="#706c6a" stroke-width="1.25" stroke-dasharray="0.5 0.9"/>
<circle cx="297.7" cy="377.6" r="2.55" fill="#423e3d" stroke="#4d4948" stroke-width="0.5"/>
<text x="290.85" y="383.25" font-size="1.9" text-anchor="middle" fill="#8a8685">-15</text>
<text x="304.55" y="383.25" font-size="1.9" text-anchor="middle" fill="#8a8685">+15</text>
<text x="297.7" y="385.5" font-size="2.7" text-anchor="middle" fill="#2a2523" stroke="#2a2523" stroke-width="0.42">LOW</text>
<path d="M293.49 398.12 A6.55 6.55 0 1 1 301.91 398.12" fill="none" stroke="#8f8b8a" stroke-width="0.7" stroke-dasharray="0.45 1.75"/>
<circle cx="297.7" cy="393.1" r="4.7" fill="#787472" stroke="#35312f" stroke-width="1.25"/>
<circle cx="297.7" cy="393.1" r="4.7" fill="none" stroke="#706c6a" stroke-width="1.25" stroke-dasharray="0.5 0.9"/>
<circle cx="297.7" cy="393.1" r="2.55" fill="#423e3d" stroke="#4d4948" stroke-width="0.5"/>
<text x="290.85" y="398.75" font-size="1.9" text-anchor="middle" fill="#8a8685">-15</text>
<text x="304.55" y="398.75" font-size="1.9" text-anchor="middle" fill="#8a8685">+15</text>
<text x="297.7" y="401" font-size="2.7" text-anchor="middle" fill="#2a2523" stroke="#2a2523" stroke-width="0.42">AUX</text>
<path d="M293.49 413.42 A6.55 6.55 0 1 1 301.91 413.42" fill="none" stroke="#8f8b8a" stroke-width="0.7" stroke-dasharray="0.45 1.75"/>
<circle cx="297.7" cy="408.4" r="4.7" fill="#787472" stroke="#35312f" stroke-width="1.25"/>
<circle cx="297.7" cy="408.4" r="4.7" fill="none" stroke="#706c6a" stroke-width="1.25" stroke-dasharray="0.5 0.9"/>
<circle cx="297.7" cy="408.4" r="2.55" fill="#423e3d" stroke="#4d4948" stroke-width="0.5"/>
<text x="290.85" y="414.05" font-size="1.9" text-anchor="middle" fill="#8a8685">-15</text>
<text x="304.55" y="414.05" font-size="1.9" text-anchor="middle" fill="#8a8685">+15</text>
<text x="297.7" y="416.3" font-size="2.7" text-anchor="middle" fill="#2a2523" stroke="#2a2523" stroke-width="0.42">FX</text>
<path d="M311.09 337.02 A6.55 6.55 0 1 1 319.51 337.02" fill="none" stroke="#8f8b8a" stroke-width="0.7" stroke-dasharray="0.45 1.75"/>
<circle cx="315.3" cy="332" r="4.75" fill="#fff" stroke="#2a2523" stroke-width="1.1"/>
<circle cx="315.3" cy="332" r="3.15" fill="#514d4c" stroke="#2a2523" stroke-width="1"/>
<circle cx="315.3" cy="332" r="1.2" fill="#777" stroke="none" stroke-width="1"/>
<text x="308.45" y="337.65" font-size="1.9" text-anchor="middle" fill="#8a8685">-15</text>
<text x="322.15" y="337.65" font-size="1.9" text-anchor="middle" fill="#8a8685">+15</text>
<text x="315.3" y="339.9" font-size="2.7" text-anchor="middle" fill="#2a2523" stroke="#2a2523" stroke-width="0.42">PAN</text>
<rect x="311.3" y="341.6" width="7.8" height="5.9" rx="0" fill="#2a2523" stroke="none" stroke-width="1" />
<path d="M312.3 346.6 l2.2 -3.6 M314.4 346.6 l2.2 -3.6 M316.5 346.6 l2.2 -3.6" stroke="#fff" stroke-width="0.7"/>
<text x="315.3" y="350.6" font-size="2.8" text-anchor="middle" textLength="10" lengthAdjust="spacingAndGlyphs" fill="#2a2523" stroke="#2a2523" stroke-width="0.4">LOW CUT</text>
<rect x="306.8" y="353" width="15.5" height="73.8" rx="0" fill="#2a2523" stroke="none" stroke-width="1" />
<rect x="312.7" y="359.4" width="2.6" height="44.8" rx="0" fill="#f4f4f4" stroke="#6d6968" stroke-width="0.4" />
<path d="M308.4 362 H312" stroke="#6f6b69" stroke-width="0.75"/>
<path d="M316.1 362 H318.9" stroke="#aeaaa8" stroke-width="0.75"/>
<path d="M308.4 363.7 H312" stroke="#6f6b69" stroke-width="0.75"/>
<path d="M316.1 363.7 H318.9" stroke="#726e6c" stroke-width="0.75"/>
<path d="M308.4 365.4 H312" stroke="#6f6b69" stroke-width="0.75"/>
<path d="M316.1 365.4 H318.9" stroke="#726e6c" stroke-width="0.75"/>
<path d="M308.4 367.1 H312" stroke="#c4c0be" stroke-width="0.75"/>
<path d="M316.1 367.1 H318.9" stroke="#aeaaa8" stroke-width="0.75"/>
<path d="M308.4 368.8 H312" stroke="#c4c0be" stroke-width="0.75"/>
<path d="M316.1 368.8 H318.9" stroke="#aeaaa8" stroke-width="0.75"/>
<path d="M308.4 370.5 H312" stroke="#c4c0be" stroke-width="0.75"/>
<path d="M316.1 370.5 H318.9" stroke="#aeaaa8" stroke-width="0.75"/>
<path d="M308.4 372.2 H312" stroke="#c4c0be" stroke-width="0.75"/>
<path d="M316.1 372.2 H318.9" stroke="#aeaaa8" stroke-width="0.75"/>
<path d="M308.4 373.9 H312" stroke="#c4c0be" stroke-width="0.75"/>
<path d="M316.1 373.9 H318.9" stroke="#aeaaa8" stroke-width="0.75"/>
<path d="M308.4 375.6 H312" stroke="#c4c0be" stroke-width="0.75"/>
<path d="M316.1 375.6 H318.9" stroke="#aeaaa8" stroke-width="0.75"/>
<path d="M308.4 377.3 H312" stroke="#c4c0be" stroke-width="0.75"/>
<path d="M316.1 377.3 H318.9" stroke="#aeaaa8" stroke-width="0.75"/>
<path d="M308.4 379 H312" stroke="#c4c0be" stroke-width="0.75"/>
<path d="M316.1 379 H318.9" stroke="#aeaaa8" stroke-width="0.75"/>
<path d="M308.4 380.7 H312" stroke="#c4c0be" stroke-width="0.75"/>
<path d="M316.1 380.7 H318.9" stroke="#aeaaa8" stroke-width="0.75"/>
<path d="M308.4 382.4 H312" stroke="#c4c0be" stroke-width="0.75"/>
<path d="M316.1 382.4 H318.9" stroke="#aeaaa8" stroke-width="0.75"/>
<path d="M308.4 384.1 H312" stroke="#6f6b69" stroke-width="0.75"/>
<path d="M316.1 384.1 H318.9" stroke="#726e6c" stroke-width="0.75"/>
<path d="M308.4 385.8 H312" stroke="#6f6b69" stroke-width="0.75"/>
<path d="M316.1 385.8 H318.9" stroke="#726e6c" stroke-width="0.75"/>
<path d="M308.4 387.5 H312" stroke="#6f6b69" stroke-width="0.75"/>
<path d="M316.1 387.5 H318.9" stroke="#aeaaa8" stroke-width="0.75"/>
<path d="M308.4 389.2 H312" stroke="#6f6b69" stroke-width="0.75"/>
<path d="M316.1 389.2 H318.9" stroke="#726e6c" stroke-width="0.75"/>
<path d="M308.4 390.9 H312" stroke="#6f6b69" stroke-width="0.75"/>
<path d="M316.1 390.9 H318.9" stroke="#726e6c" stroke-width="0.75"/>
<path d="M308.4 392.6 H312" stroke="#6f6b69" stroke-width="0.75"/>
<path d="M316.1 392.6 H318.9" stroke="#aeaaa8" stroke-width="0.75"/>
<path d="M308.4 394.3 H312" stroke="#6f6b69" stroke-width="0.75"/>
<path d="M316.1 394.3 H318.9" stroke="#726e6c" stroke-width="0.75"/>
<path d="M308.4 396 H312" stroke="#6f6b69" stroke-width="0.75"/>
<path d="M316.1 396 H318.9" stroke="#726e6c" stroke-width="0.75"/>
<path d="M308.4 397.7 H312" stroke="#6f6b69" stroke-width="0.75"/>
<path d="M316.1 397.7 H318.9" stroke="#aeaaa8" stroke-width="0.75"/>
<path d="M308.4 399.4 H312" stroke="#6f6b69" stroke-width="0.75"/>
<path d="M316.1 399.4 H318.9" stroke="#726e6c" stroke-width="0.75"/>
<path d="M308.4 401.1 H312" stroke="#6f6b69" stroke-width="0.75"/>
<path d="M316.1 401.1 H318.9" stroke="#726e6c" stroke-width="0.75"/>
<path d="M308.4 402.8 H312" stroke="#6f6b69" stroke-width="0.75"/>
<path d="M316.1 402.8 H318.9" stroke="#aeaaa8" stroke-width="0.75"/>
<path d="M319.9 361 H320.9" stroke="#bab6b4" stroke-width="0.8"/>
<path d="M319.9 367.2 H320.9" stroke="#bab6b4" stroke-width="0.8"/>
<path d="M319.9 373.4 H320.9" stroke="#bab6b4" stroke-width="0.8"/>
<path d="M319.9 379.6 H320.9" stroke="#bab6b4" stroke-width="0.8"/>
<path d="M319.9 385.8 H320.9" stroke="#bab6b4" stroke-width="0.8"/>
<path d="M319.9 392 H320.9" stroke="#bab6b4" stroke-width="0.8"/>
<path d="M319.9 398.2 H320.9" stroke="#bab6b4" stroke-width="0.8"/>
<path d="M319.9 404.4 H320.9" stroke="#bab6b4" stroke-width="0.8"/>
<path d="M319.9 410.6 H320.9" stroke="#bab6b4" stroke-width="0.8"/>
<path d="M319.9 416.8 H320.9" stroke="#bab6b4" stroke-width="0.8"/>
<path d="M319.9 423 H320.9" stroke="#bab6b4" stroke-width="0.8"/>
<rect x="310.1" y="405.4" width="7.9" height="20.4" rx="0" fill="#353130" stroke="#7a7674" stroke-width="0.5" />
<rect x="310.9" y="407.8" width="6.3" height="6.9" rx="0" fill="#cfcdcc" stroke="none" stroke-width="1" />
<rect x="310.9" y="417.2" width="6.3" height="6.8" rx="0" fill="#cfcdcc" stroke="none" stroke-width="1" />
<rect x="293.6" y="417.3" width="8.2" height="5.4" rx="0.6" fill="#2a2523" stroke="none" stroke-width="1" />
<text x="297.7" y="425.8" font-size="2.3" text-anchor="middle" fill="#2a2523" stroke="#2a2523" stroke-width="0.28">MUTE</text>
<circle cx="326.2" cy="323" r="1" fill="none" stroke="#2a2523" stroke-width="0.5"/>
<text x="331.8" y="324.3" font-size="3.3" text-anchor="middle" textLength="7.4" lengthAdjust="spacingAndGlyphs" fill="#2a2523" stroke="#2a2523" stroke-width="0.35">MIC</text>
<polygon points="349.7,321 356.9,321 356.9,324.8 351.5,324.8" fill="#2a2523"/>
<text x="354.1" y="324.3" font-size="3.6" text-anchor="middle" fill="#fff" stroke="#fff" stroke-width="0.1">5/6</text>
<path d="M323.2 325.2 H358" stroke="#2a2523" stroke-width="0.5"/>
<path d="M327.89 337.02 A6.55 6.55 0 1 1 336.31 337.02" fill="none" stroke="#8f8b8a" stroke-width="0.7" stroke-dasharray="0.45 1.75"/>
<circle cx="332.1" cy="332" r="4.7" fill="#787472" stroke="#35312f" stroke-width="1.25"/>
<circle cx="332.1" cy="332" r="4.7" fill="none" stroke="#706c6a" stroke-width="1.25" stroke-dasharray="0.5 0.9"/>
<circle cx="332.1" cy="332" r="2.55" fill="#423e3d" stroke="#4d4948" stroke-width="0.5"/>
<text x="325.25" y="337.65" font-size="1.9" text-anchor="middle" fill="#8a8685">-15</text>
<text x="338.95" y="337.65" font-size="1.9" text-anchor="middle" fill="#8a8685">+15</text>
<text x="332.1" y="339.9" font-size="2.7" text-anchor="middle" fill="#2a2523" stroke="#2a2523" stroke-width="0.42">GAIN</text>
<path d="M327.89 352.32 A6.55 6.55 0 1 1 336.31 352.32" fill="none" stroke="#8f8b8a" stroke-width="0.7" stroke-dasharray="0.45 1.75"/>
<circle cx="332.1" cy="347.3" r="4.7" fill="#787472" stroke="#35312f" stroke-width="1.25"/>
<circle cx="332.1" cy="347.3" r="4.7" fill="none" stroke="#706c6a" stroke-width="1.25" stroke-dasharray="0.5 0.9"/>
<circle cx="332.1" cy="347.3" r="2.55" fill="#423e3d" stroke="#4d4948" stroke-width="0.5"/>
<text x="325.25" y="352.95" font-size="1.9" text-anchor="middle" fill="#8a8685">-15</text>
<text x="338.95" y="352.95" font-size="1.9" text-anchor="middle" fill="#8a8685">+15</text>
<text x="332.1" y="355.2" font-size="2.7" text-anchor="middle" fill="#2a2523" stroke="#2a2523" stroke-width="0.42">HIGH</text>
<path d="M327.89 367.52 A6.55 6.55 0 1 1 336.31 367.52" fill="none" stroke="#8f8b8a" stroke-width="0.7" stroke-dasharray="0.45 1.75"/>
<circle cx="332.1" cy="362.5" r="4.7" fill="#787472" stroke="#35312f" stroke-width="1.25"/>
<circle cx="332.1" cy="362.5" r="4.7" fill="none" stroke="#706c6a" stroke-width="1.25" stroke-dasharray="0.5 0.9"/>
<circle cx="332.1" cy="362.5" r="2.55" fill="#423e3d" stroke="#4d4948" stroke-width="0.5"/>
<text x="325.25" y="368.15" font-size="1.9" text-anchor="middle" fill="#8a8685">-15</text>
<text x="338.95" y="368.15" font-size="1.9" text-anchor="middle" fill="#8a8685">+15</text>
<text x="332.1" y="370.4" font-size="2.7" text-anchor="middle" fill="#2a2523" stroke="#2a2523" stroke-width="0.42">MID</text>
<path d="M327.89 382.62 A6.55 6.55 0 1 1 336.31 382.62" fill="none" stroke="#8f8b8a" stroke-width="0.7" stroke-dasharray="0.45 1.75"/>
<circle cx="332.1" cy="377.6" r="4.7" fill="#787472" stroke="#35312f" stroke-width="1.25"/>
<circle cx="332.1" cy="377.6" r="4.7" fill="none" stroke="#706c6a" stroke-width="1.25" stroke-dasharray="0.5 0.9"/>
<circle cx="332.1" cy="377.6" r="2.55" fill="#423e3d" stroke="#4d4948" stroke-width="0.5"/>
<text x="325.25" y="383.25" font-size="1.9" text-anchor="middle" fill="#8a8685">-15</text>
<text x="338.95" y="383.25" font-size="1.9" text-anchor="middle" fill="#8a8685">+15</text>
<text x="332.1" y="385.5" font-size="2.7" text-anchor="middle" fill="#2a2523" stroke="#2a2523" stroke-width="0.42">LOW</text>
<path d="M327.89 398.12 A6.55 6.55 0 1 1 336.31 398.12" fill="none" stroke="#8f8b8a" stroke-width="0.7" stroke-dasharray="0.45 1.75"/>
<circle cx="332.1" cy="393.1" r="4.7" fill="#787472" stroke="#35312f" stroke-width="1.25"/>
<circle cx="332.1" cy="393.1" r="4.7" fill="none" stroke="#706c6a" stroke-width="1.25" stroke-dasharray="0.5 0.9"/>
<circle cx="332.1" cy="393.1" r="2.55" fill="#423e3d" stroke="#4d4948" stroke-width="0.5"/>
<text x="325.25" y="398.75" font-size="1.9" text-anchor="middle" fill="#8a8685">-15</text>
<text x="338.95" y="398.75" font-size="1.9" text-anchor="middle" fill="#8a8685">+15</text>
<text x="332.1" y="401" font-size="2.7" text-anchor="middle" fill="#2a2523" stroke="#2a2523" stroke-width="0.42">AUX</text>
<path d="M327.89 413.42 A6.55 6.55 0 1 1 336.31 413.42" fill="none" stroke="#8f8b8a" stroke-width="0.7" stroke-dasharray="0.45 1.75"/>
<circle cx="332.1" cy="408.4" r="4.7" fill="#787472" stroke="#35312f" stroke-width="1.25"/>
<circle cx="332.1" cy="408.4" r="4.7" fill="none" stroke="#706c6a" stroke-width="1.25" stroke-dasharray="0.5 0.9"/>
<circle cx="332.1" cy="408.4" r="2.55" fill="#423e3d" stroke="#4d4948" stroke-width="0.5"/>
<text x="325.25" y="414.05" font-size="1.9" text-anchor="middle" fill="#8a8685">-15</text>
<text x="338.95" y="414.05" font-size="1.9" text-anchor="middle" fill="#8a8685">+15</text>
<text x="332.1" y="416.3" font-size="2.7" text-anchor="middle" fill="#2a2523" stroke="#2a2523" stroke-width="0.42">FX</text>
<path d="M345.49 337.02 A6.55 6.55 0 1 1 353.91 337.02" fill="none" stroke="#8f8b8a" stroke-width="0.7" stroke-dasharray="0.45 1.75"/>
<circle cx="349.7" cy="332" r="4.75" fill="#fff" stroke="#2a2523" stroke-width="1.1"/>
<circle cx="349.7" cy="332" r="3.15" fill="#514d4c" stroke="#2a2523" stroke-width="1"/>
<circle cx="349.7" cy="332" r="1.2" fill="#777" stroke="none" stroke-width="1"/>
<text x="342.85" y="337.65" font-size="1.9" text-anchor="middle" fill="#8a8685">-15</text>
<text x="356.55" y="337.65" font-size="1.9" text-anchor="middle" fill="#8a8685">+15</text>
<text x="349.7" y="339.9" font-size="2.7" text-anchor="middle" fill="#2a2523" stroke="#2a2523" stroke-width="0.42">PAN</text>
<rect x="345.7" y="341.6" width="7.8" height="5.9" rx="0" fill="#2a2523" stroke="none" stroke-width="1" />
<path d="M346.7 346.6 l2.2 -3.6 M348.8 346.6 l2.2 -3.6 M350.9 346.6 l2.2 -3.6" stroke="#fff" stroke-width="0.7"/>
<text x="349.7" y="350.6" font-size="2.8" text-anchor="middle" textLength="10" lengthAdjust="spacingAndGlyphs" fill="#2a2523" stroke="#2a2523" stroke-width="0.4">LOW CUT</text>
<rect x="341.2" y="353" width="15.9" height="73.8" rx="0" fill="#2a2523" stroke="none" stroke-width="1" />
<rect x="347.1" y="359.4" width="2.6" height="44.8" rx="0" fill="#f4f4f4" stroke="#6d6968" stroke-width="0.4" />
<path d="M342.8 362 H346.4" stroke="#6f6b69" stroke-width="0.75"/>
<path d="M350.5 362 H353.3" stroke="#aeaaa8" stroke-width="0.75"/>
<path d="M342.8 363.7 H346.4" stroke="#6f6b69" stroke-width="0.75"/>
<path d="M350.5 363.7 H353.3" stroke="#726e6c" stroke-width="0.75"/>
<path d="M342.8 365.4 H346.4" stroke="#6f6b69" stroke-width="0.75"/>
<path d="M350.5 365.4 H353.3" stroke="#726e6c" stroke-width="0.75"/>
<path d="M342.8 367.1 H346.4" stroke="#c4c0be" stroke-width="0.75"/>
<path d="M350.5 367.1 H353.3" stroke="#aeaaa8" stroke-width="0.75"/>
<path d="M342.8 368.8 H346.4" stroke="#c4c0be" stroke-width="0.75"/>
<path d="M350.5 368.8 H353.3" stroke="#aeaaa8" stroke-width="0.75"/>
<path d="M342.8 370.5 H346.4" stroke="#c4c0be" stroke-width="0.75"/>
<path d="M350.5 370.5 H353.3" stroke="#aeaaa8" stroke-width="0.75"/>
<path d="M342.8 372.2 H346.4" stroke="#c4c0be" stroke-width="0.75"/>
<path d="M350.5 372.2 H353.3" stroke="#aeaaa8" stroke-width="0.75"/>
<path d="M342.8 373.9 H346.4" stroke="#c4c0be" stroke-width="0.75"/>
<path d="M350.5 373.9 H353.3" stroke="#aeaaa8" stroke-width="0.75"/>
<path d="M342.8 375.6 H346.4" stroke="#c4c0be" stroke-width="0.75"/>
<path d="M350.5 375.6 H353.3" stroke="#aeaaa8" stroke-width="0.75"/>
<path d="M342.8 377.3 H346.4" stroke="#c4c0be" stroke-width="0.75"/>
<path d="M350.5 377.3 H353.3" stroke="#aeaaa8" stroke-width="0.75"/>
<path d="M342.8 379 H346.4" stroke="#c4c0be" stroke-width="0.75"/>
<path d="M350.5 379 H353.3" stroke="#aeaaa8" stroke-width="0.75"/>
<path d="M342.8 380.7 H346.4" stroke="#c4c0be" stroke-width="0.75"/>
<path d="M350.5 380.7 H353.3" stroke="#aeaaa8" stroke-width="0.75"/>
<path d="M342.8 382.4 H346.4" stroke="#c4c0be" stroke-width="0.75"/>
<path d="M350.5 382.4 H353.3" stroke="#aeaaa8" stroke-width="0.75"/>
<path d="M342.8 384.1 H346.4" stroke="#6f6b69" stroke-width="0.75"/>
<path d="M350.5 384.1 H353.3" stroke="#726e6c" stroke-width="0.75"/>
<path d="M342.8 385.8 H346.4" stroke="#6f6b69" stroke-width="0.75"/>
<path d="M350.5 385.8 H353.3" stroke="#726e6c" stroke-width="0.75"/>
<path d="M342.8 387.5 H346.4" stroke="#6f6b69" stroke-width="0.75"/>
<path d="M350.5 387.5 H353.3" stroke="#aeaaa8" stroke-width="0.75"/>
<path d="M342.8 389.2 H346.4" stroke="#6f6b69" stroke-width="0.75"/>
<path d="M350.5 389.2 H353.3" stroke="#726e6c" stroke-width="0.75"/>
<path d="M342.8 390.9 H346.4" stroke="#6f6b69" stroke-width="0.75"/>
<path d="M350.5 390.9 H353.3" stroke="#726e6c" stroke-width="0.75"/>
<path d="M342.8 392.6 H346.4" stroke="#6f6b69" stroke-width="0.75"/>
<path d="M350.5 392.6 H353.3" stroke="#aeaaa8" stroke-width="0.75"/>
<path d="M342.8 394.3 H346.4" stroke="#6f6b69" stroke-width="0.75"/>
<path d="M350.5 394.3 H353.3" stroke="#726e6c" stroke-width="0.75"/>
<path d="M342.8 396 H346.4" stroke="#6f6b69" stroke-width="0.75"/>
<path d="M350.5 396 H353.3" stroke="#726e6c" stroke-width="0.75"/>
<path d="M342.8 397.7 H346.4" stroke="#6f6b69" stroke-width="0.75"/>
<path d="M350.5 397.7 H353.3" stroke="#aeaaa8" stroke-width="0.75"/>
<path d="M342.8 399.4 H346.4" stroke="#6f6b69" stroke-width="0.75"/>
<path d="M350.5 399.4 H353.3" stroke="#726e6c" stroke-width="0.75"/>
<path d="M342.8 401.1 H346.4" stroke="#6f6b69" stroke-width="0.75"/>
<path d="M350.5 401.1 H353.3" stroke="#726e6c" stroke-width="0.75"/>
<path d="M342.8 402.8 H346.4" stroke="#6f6b69" stroke-width="0.75"/>
<path d="M350.5 402.8 H353.3" stroke="#aeaaa8" stroke-width="0.75"/>
<path d="M354.3 361 H355.7" stroke="#bab6b4" stroke-width="0.8"/>
<path d="M354.3 367.2 H355.7" stroke="#bab6b4" stroke-width="0.8"/>
<path d="M354.3 373.4 H355.7" stroke="#bab6b4" stroke-width="0.8"/>
<path d="M354.3 379.6 H355.7" stroke="#bab6b4" stroke-width="0.8"/>
<path d="M354.3 385.8 H355.7" stroke="#bab6b4" stroke-width="0.8"/>
<path d="M354.3 392 H355.7" stroke="#bab6b4" stroke-width="0.8"/>
<path d="M354.3 398.2 H355.7" stroke="#bab6b4" stroke-width="0.8"/>
<path d="M354.3 404.4 H355.7" stroke="#bab6b4" stroke-width="0.8"/>
<path d="M354.3 410.6 H355.7" stroke="#bab6b4" stroke-width="0.8"/>
<path d="M354.3 416.8 H355.7" stroke="#bab6b4" stroke-width="0.8"/>
<path d="M354.3 423 H355.7" stroke="#bab6b4" stroke-width="0.8"/>
<rect x="344.5" y="405.4" width="7.9" height="20.4" rx="0" fill="#353130" stroke="#7a7674" stroke-width="0.5" />
<rect x="345.3" y="407.8" width="6.3" height="6.9" rx="0" fill="#cfcdcc" stroke="none" stroke-width="1" />
<rect x="345.3" y="417.2" width="6.3" height="6.8" rx="0" fill="#cfcdcc" stroke="none" stroke-width="1" />
<rect x="328" y="417.3" width="8.2" height="5.4" rx="0.6" fill="#2a2523" stroke="none" stroke-width="1" />
<text x="332.1" y="425.8" font-size="2.3" text-anchor="middle" fill="#2a2523" stroke="#2a2523" stroke-width="0.28">MUTE</text>
<circle cx="361" cy="323" r="1" fill="none" stroke="#2a2523" stroke-width="0.5"/>
<text x="366.6" y="324.3" font-size="3.3" text-anchor="middle" textLength="7.4" lengthAdjust="spacingAndGlyphs" fill="#2a2523" stroke="#2a2523" stroke-width="0.35">MIC</text>
<polygon points="384.5,321 391.7,321 391.7,324.8 386.3,324.8" fill="#2a2523"/>
<text x="388.9" y="324.3" font-size="3.6" text-anchor="middle" fill="#fff" stroke="#fff" stroke-width="0.1">7/8</text>
<path d="M358 325.2 H392.8" stroke="#2a2523" stroke-width="0.5"/>
<path d="M362.69 337.02 A6.55 6.55 0 1 1 371.11 337.02" fill="none" stroke="#8f8b8a" stroke-width="0.7" stroke-dasharray="0.45 1.75"/>
<circle cx="366.9" cy="332" r="4.7" fill="#787472" stroke="#35312f" stroke-width="1.25"/>
<circle cx="366.9" cy="332" r="4.7" fill="none" stroke="#706c6a" stroke-width="1.25" stroke-dasharray="0.5 0.9"/>
<circle cx="366.9" cy="332" r="2.55" fill="#423e3d" stroke="#4d4948" stroke-width="0.5"/>
<text x="360.05" y="337.65" font-size="1.9" text-anchor="middle" fill="#8a8685">-15</text>
<text x="373.75" y="337.65" font-size="1.9" text-anchor="middle" fill="#8a8685">+15</text>
<text x="366.9" y="339.9" font-size="2.7" text-anchor="middle" fill="#2a2523" stroke="#2a2523" stroke-width="0.42">GAIN</text>
<path d="M362.69 352.32 A6.55 6.55 0 1 1 371.11 352.32" fill="none" stroke="#8f8b8a" stroke-width="0.7" stroke-dasharray="0.45 1.75"/>
<circle cx="366.9" cy="347.3" r="4.7" fill="#787472" stroke="#35312f" stroke-width="1.25"/>
<circle cx="366.9" cy="347.3" r="4.7" fill="none" stroke="#706c6a" stroke-width="1.25" stroke-dasharray="0.5 0.9"/>
<circle cx="366.9" cy="347.3" r="2.55" fill="#423e3d" stroke="#4d4948" stroke-width="0.5"/>
<text x="360.05" y="352.95" font-size="1.9" text-anchor="middle" fill="#8a8685">-15</text>
<text x="373.75" y="352.95" font-size="1.9" text-anchor="middle" fill="#8a8685">+15</text>
<text x="366.9" y="355.2" font-size="2.7" text-anchor="middle" fill="#2a2523" stroke="#2a2523" stroke-width="0.42">HIGH</text>
<path d="M362.69 367.52 A6.55 6.55 0 1 1 371.11 367.52" fill="none" stroke="#8f8b8a" stroke-width="0.7" stroke-dasharray="0.45 1.75"/>
<circle cx="366.9" cy="362.5" r="4.7" fill="#787472" stroke="#35312f" stroke-width="1.25"/>
<circle cx="366.9" cy="362.5" r="4.7" fill="none" stroke="#706c6a" stroke-width="1.25" stroke-dasharray="0.5 0.9"/>
<circle cx="366.9" cy="362.5" r="2.55" fill="#423e3d" stroke="#4d4948" stroke-width="0.5"/>
<text x="360.05" y="368.15" font-size="1.9" text-anchor="middle" fill="#8a8685">-15</text>
<text x="373.75" y="368.15" font-size="1.9" text-anchor="middle" fill="#8a8685">+15</text>
<text x="366.9" y="370.4" font-size="2.7" text-anchor="middle" fill="#2a2523" stroke="#2a2523" stroke-width="0.42">MID</text>
<path d="M362.69 382.62 A6.55 6.55 0 1 1 371.11 382.62" fill="none" stroke="#8f8b8a" stroke-width="0.7" stroke-dasharray="0.45 1.75"/>
<circle cx="366.9" cy="377.6" r="4.7" fill="#787472" stroke="#35312f" stroke-width="1.25"/>
<circle cx="366.9" cy="377.6" r="4.7" fill="none" stroke="#706c6a" stroke-width="1.25" stroke-dasharray="0.5 0.9"/>
<circle cx="366.9" cy="377.6" r="2.55" fill="#423e3d" stroke="#4d4948" stroke-width="0.5"/>
<text x="360.05" y="383.25" font-size="1.9" text-anchor="middle" fill="#8a8685">-15</text>
<text x="373.75" y="383.25" font-size="1.9" text-anchor="middle" fill="#8a8685">+15</text>
<text x="366.9" y="385.5" font-size="2.7" text-anchor="middle" fill="#2a2523" stroke="#2a2523" stroke-width="0.42">LOW</text>
<path d="M362.69 398.12 A6.55 6.55 0 1 1 371.11 398.12" fill="none" stroke="#8f8b8a" stroke-width="0.7" stroke-dasharray="0.45 1.75"/>
<circle cx="366.9" cy="393.1" r="4.7" fill="#787472" stroke="#35312f" stroke-width="1.25"/>
<circle cx="366.9" cy="393.1" r="4.7" fill="none" stroke="#706c6a" stroke-width="1.25" stroke-dasharray="0.5 0.9"/>
<circle cx="366.9" cy="393.1" r="2.55" fill="#423e3d" stroke="#4d4948" stroke-width="0.5"/>
<text x="360.05" y="398.75" font-size="1.9" text-anchor="middle" fill="#8a8685">-15</text>
<text x="373.75" y="398.75" font-size="1.9" text-anchor="middle" fill="#8a8685">+15</text>
<text x="366.9" y="401" font-size="2.7" text-anchor="middle" fill="#2a2523" stroke="#2a2523" stroke-width="0.42">AUX</text>
<path d="M362.69 413.42 A6.55 6.55 0 1 1 371.11 413.42" fill="none" stroke="#8f8b8a" stroke-width="0.7" stroke-dasharray="0.45 1.75"/>
<circle cx="366.9" cy="408.4" r="4.7" fill="#787472" stroke="#35312f" stroke-width="1.25"/>
<circle cx="366.9" cy="408.4" r="4.7" fill="none" stroke="#706c6a" stroke-width="1.25" stroke-dasharray="0.5 0.9"/>
<circle cx="366.9" cy="408.4" r="2.55" fill="#423e3d" stroke="#4d4948" stroke-width="0.5"/>
<text x="360.05" y="414.05" font-size="1.9" text-anchor="middle" fill="#8a8685">-15</text>
<text x="373.75" y="414.05" font-size="1.9" text-anchor="middle" fill="#8a8685">+15</text>
<text x="366.9" y="416.3" font-size="2.7" text-anchor="middle" fill="#2a2523" stroke="#2a2523" stroke-width="0.42">FX</text>
<path d="M380.29 337.02 A6.55 6.55 0 1 1 388.71 337.02" fill="none" stroke="#8f8b8a" stroke-width="0.7" stroke-dasharray="0.45 1.75"/>
<circle cx="384.5" cy="332" r="4.75" fill="#fff" stroke="#2a2523" stroke-width="1.1"/>
<circle cx="384.5" cy="332" r="3.15" fill="#514d4c" stroke="#2a2523" stroke-width="1"/>
<circle cx="384.5" cy="332" r="1.2" fill="#777" stroke="none" stroke-width="1"/>
<text x="377.65" y="337.65" font-size="1.9" text-anchor="middle" fill="#8a8685">-15</text>
<text x="391.35" y="337.65" font-size="1.9" text-anchor="middle" fill="#8a8685">+15</text>
<text x="384.5" y="339.9" font-size="2.7" text-anchor="middle" fill="#2a2523" stroke="#2a2523" stroke-width="0.42">PAN</text>
<rect x="380.5" y="341.6" width="7.8" height="5.9" rx="0" fill="#2a2523" stroke="none" stroke-width="1" />
<path d="M381.5 346.6 l2.2 -3.6 M383.6 346.6 l2.2 -3.6 M385.7 346.6 l2.2 -3.6" stroke="#fff" stroke-width="0.7"/>
<text x="384.5" y="350.6" font-size="2.8" text-anchor="middle" textLength="10" lengthAdjust="spacingAndGlyphs" fill="#2a2523" stroke="#2a2523" stroke-width="0.4">LOW CUT</text>
<rect x="376" y="353" width="15.9" height="73.8" rx="0" fill="#2a2523" stroke="none" stroke-width="1" />
<rect x="381.9" y="359.4" width="2.6" height="44.8" rx="0" fill="#f4f4f4" stroke="#6d6968" stroke-width="0.4" />
<path d="M377.6 362 H381.2" stroke="#6f6b69" stroke-width="0.75"/>
<path d="M385.3 362 H388.1" stroke="#aeaaa8" stroke-width="0.75"/>
<path d="M377.6 363.7 H381.2" stroke="#6f6b69" stroke-width="0.75"/>
<path d="M385.3 363.7 H388.1" stroke="#726e6c" stroke-width="0.75"/>
<path d="M377.6 365.4 H381.2" stroke="#6f6b69" stroke-width="0.75"/>
<path d="M385.3 365.4 H388.1" stroke="#726e6c" stroke-width="0.75"/>
<path d="M377.6 367.1 H381.2" stroke="#c4c0be" stroke-width="0.75"/>
<path d="M385.3 367.1 H388.1" stroke="#aeaaa8" stroke-width="0.75"/>
<path d="M377.6 368.8 H381.2" stroke="#c4c0be" stroke-width="0.75"/>
<path d="M385.3 368.8 H388.1" stroke="#aeaaa8" stroke-width="0.75"/>
<path d="M377.6 370.5 H381.2" stroke="#c4c0be" stroke-width="0.75"/>
<path d="M385.3 370.5 H388.1" stroke="#aeaaa8" stroke-width="0.75"/>
<path d="M377.6 372.2 H381.2" stroke="#c4c0be" stroke-width="0.75"/>
<path d="M385.3 372.2 H388.1" stroke="#aeaaa8" stroke-width="0.75"/>
<path d="M377.6 373.9 H381.2" stroke="#c4c0be" stroke-width="0.75"/>
<path d="M385.3 373.9 H388.1" stroke="#aeaaa8" stroke-width="0.75"/>
<path d="M377.6 375.6 H381.2" stroke="#c4c0be" stroke-width="0.75"/>
<path d="M385.3 375.6 H388.1" stroke="#aeaaa8" stroke-width="0.75"/>
<path d="M377.6 377.3 H381.2" stroke="#c4c0be" stroke-width="0.75"/>
<path d="M385.3 377.3 H388.1" stroke="#aeaaa8" stroke-width="0.75"/>
<path d="M377.6 379 H381.2" stroke="#c4c0be" stroke-width="0.75"/>
<path d="M385.3 379 H388.1" stroke="#aeaaa8" stroke-width="0.75"/>
<path d="M377.6 380.7 H381.2" stroke="#c4c0be" stroke-width="0.75"/>
<path d="M385.3 380.7 H388.1" stroke="#aeaaa8" stroke-width="0.75"/>
<path d="M377.6 382.4 H381.2" stroke="#c4c0be" stroke-width="0.75"/>
<path d="M385.3 382.4 H388.1" stroke="#aeaaa8" stroke-width="0.75"/>
<path d="M377.6 384.1 H381.2" stroke="#6f6b69" stroke-width="0.75"/>
<path d="M385.3 384.1 H388.1" stroke="#726e6c" stroke-width="0.75"/>
<path d="M377.6 385.8 H381.2" stroke="#6f6b69" stroke-width="0.75"/>
<path d="M385.3 385.8 H388.1" stroke="#726e6c" stroke-width="0.75"/>
<path d="M377.6 387.5 H381.2" stroke="#6f6b69" stroke-width="0.75"/>
<path d="M385.3 387.5 H388.1" stroke="#aeaaa8" stroke-width="0.75"/>
<path d="M377.6 389.2 H381.2" stroke="#6f6b69" stroke-width="0.75"/>
<path d="M385.3 389.2 H388.1" stroke="#726e6c" stroke-width="0.75"/>
<path d="M377.6 390.9 H381.2" stroke="#6f6b69" stroke-width="0.75"/>
<path d="M385.3 390.9 H388.1" stroke="#726e6c" stroke-width="0.75"/>
<path d="M377.6 392.6 H381.2" stroke="#6f6b69" stroke-width="0.75"/>
<path d="M385.3 392.6 H388.1" stroke="#aeaaa8" stroke-width="0.75"/>
<path d="M377.6 394.3 H381.2" stroke="#6f6b69" stroke-width="0.75"/>
<path d="M385.3 394.3 H388.1" stroke="#726e6c" stroke-width="0.75"/>
<path d="M377.6 396 H381.2" stroke="#6f6b69" stroke-width="0.75"/>
<path d="M385.3 396 H388.1" stroke="#726e6c" stroke-width="0.75"/>
<path d="M377.6 397.7 H381.2" stroke="#6f6b69" stroke-width="0.75"/>
<path d="M385.3 397.7 H388.1" stroke="#aeaaa8" stroke-width="0.75"/>
<path d="M377.6 399.4 H381.2" stroke="#6f6b69" stroke-width="0.75"/>
<path d="M385.3 399.4 H388.1" stroke="#726e6c" stroke-width="0.75"/>
<path d="M377.6 401.1 H381.2" stroke="#6f6b69" stroke-width="0.75"/>
<path d="M385.3 401.1 H388.1" stroke="#726e6c" stroke-width="0.75"/>
<path d="M377.6 402.8 H381.2" stroke="#6f6b69" stroke-width="0.75"/>
<path d="M385.3 402.8 H388.1" stroke="#aeaaa8" stroke-width="0.75"/>
<path d="M389.1 361 H390.5" stroke="#bab6b4" stroke-width="0.8"/>
<path d="M389.1 367.2 H390.5" stroke="#bab6b4" stroke-width="0.8"/>
<path d="M389.1 373.4 H390.5" stroke="#bab6b4" stroke-width="0.8"/>
<path d="M389.1 379.6 H390.5" stroke="#bab6b4" stroke-width="0.8"/>
<path d="M389.1 385.8 H390.5" stroke="#bab6b4" stroke-width="0.8"/>
<path d="M389.1 392 H390.5" stroke="#bab6b4" stroke-width="0.8"/>
<path d="M389.1 398.2 H390.5" stroke="#bab6b4" stroke-width="0.8"/>
<path d="M389.1 404.4 H390.5" stroke="#bab6b4" stroke-width="0.8"/>
<path d="M389.1 410.6 H390.5" stroke="#bab6b4" stroke-width="0.8"/>
<path d="M389.1 416.8 H390.5" stroke="#bab6b4" stroke-width="0.8"/>
<path d="M389.1 423 H390.5" stroke="#bab6b4" stroke-width="0.8"/>
<rect x="379.3" y="405.4" width="7.9" height="20.4" rx="0" fill="#353130" stroke="#7a7674" stroke-width="0.5" />
<rect x="380.1" y="407.8" width="6.3" height="6.9" rx="0" fill="#cfcdcc" stroke="none" stroke-width="1" />
<rect x="380.1" y="417.2" width="6.3" height="6.8" rx="0" fill="#cfcdcc" stroke="none" stroke-width="1" />
<rect x="362.8" y="417.3" width="8.2" height="5.4" rx="0.6" fill="#2a2523" stroke="none" stroke-width="1" />
<text x="366.9" y="425.8" font-size="2.3" text-anchor="middle" fill="#2a2523" stroke="#2a2523" stroke-width="0.28">MUTE</text>
<path d="M218.8 321 V427" stroke="#2a2523" stroke-width="0.8"/>
<path d="M253.8 321 V427" stroke="#2a2523" stroke-width="0.8"/>
<path d="M288.8 321 V427" stroke="#2a2523" stroke-width="0.8"/>
<path d="M323.2 321 V427" stroke="#2a2523" stroke-width="0.8"/>
<path d="M358 321 V427" stroke="#2a2523" stroke-width="0.8"/>
<path d="M392.8 321 V427" stroke="#2a2523" stroke-width="0.8"/>
<circle cx="395.8" cy="323" r="1" fill="none" stroke="#2a2523" stroke-width="0.5"/>
<text x="401" y="324.2" font-size="3" text-anchor="middle" fill="#2a2523" stroke="#2a2523" stroke-width="0.28">MIC</text>
<polygon points="411.8,321 418.7,321 418.7,324.8 413.3,324.8" fill="#2a2523"/>
<text x="416.05" y="324.3" font-size="3.6" text-anchor="middle" fill="#fff" stroke="#fff" stroke-width="0.1">9/10</text>
<rect x="397.4" y="325.4" width="1.8" height="5.2" rx="0" fill="#fff" stroke="#2a2523" stroke-width="0.7" />
<circle cx="405.7" cy="327.6" r="3.6" fill="#3d3938" stroke="#2a2523" stroke-width="0.8"/>
<text x="405" y="334.6" font-size="2.7" text-anchor="middle" textLength="13" lengthAdjust="spacingAndGlyphs" fill="#2a2523" stroke="#2a2523" stroke-width="0.28">STEREO/IN</text>
<path d="M401.79 347.02 A6.55 6.55 0 1 1 410.21 347.02" fill="none" stroke="#8f8b8a" stroke-width="0.7" stroke-dasharray="0.45 1.75"/>
<circle cx="406" cy="342" r="4.7" fill="#787472" stroke="#35312f" stroke-width="1.25"/>
<circle cx="406" cy="342" r="4.7" fill="none" stroke="#706c6a" stroke-width="1.25" stroke-dasharray="0.5 0.9"/>
<circle cx="406" cy="342" r="2.55" fill="#423e3d" stroke="#4d4948" stroke-width="0.5"/>
<text x="399.15" y="347.65" font-size="1.9" text-anchor="middle" fill="#8a8685">-15</text>
<text x="412.85" y="347.65" font-size="1.9" text-anchor="middle" fill="#8a8685">+15</text>
<text x="406" y="349.9" font-size="2.7" text-anchor="middle" fill="#2a2523" stroke="#2a2523" stroke-width="0.42">HIGH</text>
<path d="M401.79 362.42 A6.55 6.55 0 1 1 410.21 362.42" fill="none" stroke="#8f8b8a" stroke-width="0.7" stroke-dasharray="0.45 1.75"/>
<circle cx="406" cy="357.4" r="4.7" fill="#787472" stroke="#35312f" stroke-width="1.25"/>
<circle cx="406" cy="357.4" r="4.7" fill="none" stroke="#706c6a" stroke-width="1.25" stroke-dasharray="0.5 0.9"/>
<circle cx="406" cy="357.4" r="2.55" fill="#423e3d" stroke="#4d4948" stroke-width="0.5"/>
<text x="399.15" y="363.05" font-size="1.9" text-anchor="middle" fill="#8a8685">-15</text>
<text x="412.85" y="363.05" font-size="1.9" text-anchor="middle" fill="#8a8685">+15</text>
<text x="406" y="365.3" font-size="2.7" text-anchor="middle" fill="#2a2523" stroke="#2a2523" stroke-width="0.42">LOW</text>
<path d="M401.79 377.22 A6.55 6.55 0 1 1 410.21 377.22" fill="none" stroke="#8f8b8a" stroke-width="0.7" stroke-dasharray="0.45 1.75"/>
<circle cx="406" cy="372.2" r="4.7" fill="#787472" stroke="#35312f" stroke-width="1.25"/>
<circle cx="406" cy="372.2" r="4.7" fill="none" stroke="#706c6a" stroke-width="1.25" stroke-dasharray="0.5 0.9"/>
<circle cx="406" cy="372.2" r="2.55" fill="#423e3d" stroke="#4d4948" stroke-width="0.5"/>
<text x="399.15" y="377.85" font-size="1.9" text-anchor="middle" fill="#8a8685">-15</text>
<text x="412.85" y="377.85" font-size="1.9" text-anchor="middle" fill="#8a8685">+15</text>
<text x="406" y="380.1" font-size="2.7" text-anchor="middle" fill="#2a2523" stroke="#2a2523" stroke-width="0.42">AUX</text>
<path d="M401.79 392.02 A6.55 6.55 0 1 1 410.21 392.02" fill="none" stroke="#8f8b8a" stroke-width="0.7" stroke-dasharray="0.45 1.75"/>
<circle cx="406" cy="387" r="4.7" fill="#787472" stroke="#35312f" stroke-width="1.25"/>
<circle cx="406" cy="387" r="4.7" fill="none" stroke="#706c6a" stroke-width="1.25" stroke-dasharray="0.5 0.9"/>
<circle cx="406" cy="387" r="2.55" fill="#423e3d" stroke="#4d4948" stroke-width="0.5"/>
<text x="399.15" y="392.65" font-size="1.9" text-anchor="middle" fill="#8a8685">-15</text>
<text x="412.85" y="392.65" font-size="1.9" text-anchor="middle" fill="#8a8685">+15</text>
<text x="406" y="394.9" font-size="2.7" text-anchor="middle" fill="#2a2523" stroke="#2a2523" stroke-width="0.42">FX</text>
<path d="M401.79 407.82 A6.55 6.55 0 1 1 410.21 407.82" fill="none" stroke="#8f8b8a" stroke-width="0.7" stroke-dasharray="0.45 1.75"/>
<circle cx="406" cy="402.8" r="4.75" fill="#fff" stroke="#2a2523" stroke-width="1.1"/>
<circle cx="406" cy="402.8" r="3.15" fill="#514d4c" stroke="#2a2523" stroke-width="1"/>
<circle cx="406" cy="402.8" r="1.2" fill="#777" stroke="none" stroke-width="1"/>
<text x="399.15" y="408.45" font-size="1.9" text-anchor="middle" fill="#8a8685">-15</text>
<text x="412.85" y="408.45" font-size="1.9" text-anchor="middle" fill="#8a8685">+15</text>
<text x="406" y="410.7" font-size="2.7" text-anchor="middle" fill="#2a2523" stroke="#2a2523" stroke-width="0.42">BAL</text>
<path d="M401.79 423.02 A6.55 6.55 0 1 1 410.21 423.02" fill="none" stroke="#8f8b8a" stroke-width="0.7" stroke-dasharray="0.45 1.75"/>
<circle cx="406" cy="418" r="4.7" fill="#787472" stroke="#35312f" stroke-width="1.25"/>
<circle cx="406" cy="418" r="4.7" fill="none" stroke="#706c6a" stroke-width="1.25" stroke-dasharray="0.5 0.9"/>
<circle cx="406" cy="418" r="2.55" fill="#423e3d" stroke="#4d4948" stroke-width="0.5"/>
<text x="399.15" y="423.65" font-size="1.9" text-anchor="middle" fill="#8a8685">-15</text>
<text x="412.85" y="423.65" font-size="1.9" text-anchor="middle" fill="#8a8685">+15</text>
<text x="406" y="425.9" font-size="2.7" text-anchor="middle" fill="#2a2523" stroke="#2a2523" stroke-width="0.42">LEVEL</text>
<path d="M419.4 321 V432" stroke="#2a2523" stroke-width="0.8"/>
<path d="M419.4 333.8 H482 M450.5 321 V333.8 M419.4 351.6 H482 M439.7 333.8 V427 M460.6 351.6 V427 M482 321 V432" stroke="#2a2523" stroke-width="0.8" fill="none"/>
<rect x="425.3" y="324" width="8.6" height="6.7" rx="0" fill="#2a2523" stroke="none" stroke-width="1" />
<path d="M426.5 329.8 l3.4 -4.6 M429.5 329.8 l3.4 -4.6" stroke="#fff" stroke-width="0.8"/>
<text x="436.1" y="326.9" font-size="2.5" text-anchor="start" textLength="13" lengthAdjust="spacingAndGlyphs" fill="#2a2523" stroke="#2a2523" stroke-width="0.3">=16BIT</text>
<text x="436.1" y="330.5" font-size="2.5" text-anchor="start" textLength="9.5" lengthAdjust="spacingAndGlyphs" fill="#2a2523" stroke="#2a2523" stroke-width="0.3">=DSP</text>
<rect x="456.2" y="324" width="8.6" height="6.7" rx="0" fill="#2a2523" stroke="none" stroke-width="1" />
<path d="M457.4 329.8 l3.4 -4.6 M460.4 329.8 l3.4 -4.6" stroke="#fff" stroke-width="0.8"/>
<text x="467" y="326.9" font-size="2.5" text-anchor="start" textLength="13" lengthAdjust="spacingAndGlyphs" fill="#2a2523" stroke="#2a2523" stroke-width="0.3">USB/MP3</text>
<text x="467" y="330.5" font-size="2.5" text-anchor="start" textLength="9.5" lengthAdjust="spacingAndGlyphs" fill="#2a2523" stroke="#2a2523" stroke-width="0.3">PLAYER</text>
<path d="M425.19 347.02 A6.55 6.55 0 1 1 433.61 347.02" fill="none" stroke="#8f8b8a" stroke-width="0.7" stroke-dasharray="0.45 1.75"/>
<circle cx="429.4" cy="342" r="4.7" fill="#787472" stroke="#35312f" stroke-width="1.25"/>
<circle cx="429.4" cy="342" r="4.7" fill="none" stroke="#706c6a" stroke-width="1.25" stroke-dasharray="0.5 0.9"/>
<circle cx="429.4" cy="342" r="2.55" fill="#423e3d" stroke="#4d4948" stroke-width="0.5"/>
<text x="422.55" y="347.65" font-size="1.9" text-anchor="middle" fill="#8a8685">-15</text>
<text x="436.25" y="347.65" font-size="1.9" text-anchor="middle" fill="#8a8685">+15</text>
<text x="429.4" y="350.8" font-size="3.1" text-anchor="middle" textLength="15.5" lengthAdjust="spacingAndGlyphs" fill="#2a2523" stroke="#2a2523" stroke-width="0.42">FX/AUX RTN</text>
<path d="M446.09 347.02 A6.55 6.55 0 1 1 454.51 347.02" fill="none" stroke="#8f8b8a" stroke-width="0.7" stroke-dasharray="0.45 1.75"/>
<circle cx="450.3" cy="342" r="4.7" fill="#787472" stroke="#35312f" stroke-width="1.25"/>
<circle cx="450.3" cy="342" r="4.7" fill="none" stroke="#706c6a" stroke-width="1.25" stroke-dasharray="0.5 0.9"/>
<circle cx="450.3" cy="342" r="2.55" fill="#423e3d" stroke="#4d4948" stroke-width="0.5"/>
<text x="443.45" y="347.65" font-size="1.9" text-anchor="middle" fill="#8a8685">-15</text>
<text x="457.15" y="347.65" font-size="1.9" text-anchor="middle" fill="#8a8685">+15</text>
<text x="450.3" y="350.8" font-size="3.1" text-anchor="middle" textLength="6" lengthAdjust="spacingAndGlyphs" fill="#2a2523" stroke="#2a2523" stroke-width="0.42">AUX</text>
<path d="M467.09 347.02 A6.55 6.55 0 1 1 475.51 347.02" fill="none" stroke="#8f8b8a" stroke-width="0.7" stroke-dasharray="0.45 1.75"/>
<circle cx="471.3" cy="342" r="4.7" fill="#787472" stroke="#35312f" stroke-width="1.25"/>
<circle cx="471.3" cy="342" r="4.7" fill="none" stroke="#706c6a" stroke-width="1.25" stroke-dasharray="0.5 0.9"/>
<circle cx="471.3" cy="342" r="2.55" fill="#423e3d" stroke="#4d4948" stroke-width="0.5"/>
<text x="464.45" y="347.65" font-size="1.9" text-anchor="middle" fill="#8a8685">-15</text>
<text x="478.15" y="347.65" font-size="1.9" text-anchor="middle" fill="#8a8685">+15</text>
<text x="471.3" y="350.8" font-size="3.1" text-anchor="middle" textLength="10.5" lengthAdjust="spacingAndGlyphs" fill="#2a2523" stroke="#2a2523" stroke-width="0.42">GROUP</text>
<path d="M423.8 361.5 H427.1 M431.7 361.5 H435" stroke="#8f8c8a" stroke-width="0.8"/>
<path d="M424.8 364.2 H427.1 M431.7 364.2 H434" stroke="#bdbbb9" stroke-width="0.7"/>
<path d="M423.8 366.9 H427.1 M431.7 366.9 H435" stroke="#8f8c8a" stroke-width="0.8"/>
<path d="M424.8 369.6 H427.1 M431.7 369.6 H434" stroke="#bdbbb9" stroke-width="0.7"/>
<path d="M423.8 372.3 H427.1 M431.7 372.3 H435" stroke="#8f8c8a" stroke-width="0.8"/>
<path d="M424.8 375 H427.1 M431.7 375 H434" stroke="#bdbbb9" stroke-width="0.7"/>
<path d="M423.8 377.7 H427.1 M431.7 377.7 H435" stroke="#8f8c8a" stroke-width="0.8"/>
<path d="M424.8 380.4 H427.1 M431.7 380.4 H434" stroke="#bdbbb9" stroke-width="0.7"/>
<path d="M423.8 383.1 H427.1 M431.7 383.1 H435" stroke="#8f8c8a" stroke-width="0.8"/>
<path d="M424.8 385.8 H427.1 M431.7 385.8 H434" stroke="#bdbbb9" stroke-width="0.7"/>
<path d="M423.8 388.5 H427.1 M431.7 388.5 H435" stroke="#8f8c8a" stroke-width="0.8"/>
<path d="M424.8 391.2 H427.1 M431.7 391.2 H434" stroke="#bdbbb9" stroke-width="0.7"/>
<path d="M423.8 393.9 H427.1 M431.7 393.9 H435" stroke="#8f8c8a" stroke-width="0.8"/>
<path d="M424.8 396.6 H427.1 M431.7 396.6 H434" stroke="#bdbbb9" stroke-width="0.7"/>
<path d="M423.8 399.3 H427.1 M431.7 399.3 H435" stroke="#8f8c8a" stroke-width="0.8"/>
<path d="M424.8 402 H427.1 M431.7 402 H434" stroke="#bdbbb9" stroke-width="0.7"/>
<path d="M423.8 404.7 H427.1 M431.7 404.7 H435" stroke="#8f8c8a" stroke-width="0.8"/>
<path d="M424.8 407.4 H427.1 M431.7 407.4 H434" stroke="#bdbbb9" stroke-width="0.7"/>
<path d="M423.8 410.1 H427.1 M431.7 410.1 H435" stroke="#8f8c8a" stroke-width="0.8"/>
<path d="M424.8 412.8 H427.1 M431.7 412.8 H434" stroke="#bdbbb9" stroke-width="0.7"/>
<path d="M423.8 415.5 H427.1 M431.7 415.5 H435" stroke="#8f8c8a" stroke-width="0.8"/>
<path d="M424.8 418.2 H427.1 M431.7 418.2 H434" stroke="#bdbbb9" stroke-width="0.7"/>
<path d="M423.8 420.9 H427.1 M431.7 420.9 H435" stroke="#8f8c8a" stroke-width="0.8"/>
<path d="M424.8 423.6 H427.1 M431.7 423.6 H434" stroke="#bdbbb9" stroke-width="0.7"/>
<path d="M424.4 363 H427 M431.8 363 H434.4" stroke="#cfcdcc" stroke-width="0.6"/>
<path d="M424.4 364.35 H427 M431.8 364.35 H434.4" stroke="#cfcdcc" stroke-width="0.6"/>
<path d="M424.4 365.7 H427 M431.8 365.7 H434.4" stroke="#cfcdcc" stroke-width="0.6"/>
<path d="M424.4 367.05 H427 M431.8 367.05 H434.4" stroke="#cfcdcc" stroke-width="0.6"/>
<path d="M424.4 368.4 H427 M431.8 368.4 H434.4" stroke="#cfcdcc" stroke-width="0.6"/>
<path d="M424.4 369.75 H427 M431.8 369.75 H434.4" stroke="#cfcdcc" stroke-width="0.6"/>
<path d="M424.4 371.1 H427 M431.8 371.1 H434.4" stroke="#cfcdcc" stroke-width="0.6"/>
<path d="M424.4 372.45 H427 M431.8 372.45 H434.4" stroke="#cfcdcc" stroke-width="0.6"/>
<path d="M424.4 373.8 H427 M431.8 373.8 H434.4" stroke="#cfcdcc" stroke-width="0.6"/>
<path d="M424.4 375.15 H427 M431.8 375.15 H434.4" stroke="#cfcdcc" stroke-width="0.6"/>
<path d="M424.4 376.5 H427 M431.8 376.5 H434.4" stroke="#cfcdcc" stroke-width="0.6"/>
<path d="M424.4 377.85 H427 M431.8 377.85 H434.4" stroke="#cfcdcc" stroke-width="0.6"/>
<path d="M424.4 379.2 H427 M431.8 379.2 H434.4" stroke="#cfcdcc" stroke-width="0.6"/>
<path d="M424.4 380.55 H427 M431.8 380.55 H434.4" stroke="#cfcdcc" stroke-width="0.6"/>
<path d="M424.4 381.9 H427 M431.8 381.9 H434.4" stroke="#cfcdcc" stroke-width="0.6"/>
<path d="M424.4 383.25 H427 M431.8 383.25 H434.4" stroke="#cfcdcc" stroke-width="0.6"/>
<path d="M424.4 384.6 H427 M431.8 384.6 H434.4" stroke="#cfcdcc" stroke-width="0.6"/>
<path d="M424.4 385.95 H427 M431.8 385.95 H434.4" stroke="#cfcdcc" stroke-width="0.6"/>
<path d="M424.4 387.3 H427 M431.8 387.3 H434.4" stroke="#cfcdcc" stroke-width="0.6"/>
<path d="M424.4 388.65 H427 M431.8 388.65 H434.4" stroke="#cfcdcc" stroke-width="0.6"/>
<path d="M424.4 390 H427 M431.8 390 H434.4" stroke="#cfcdcc" stroke-width="0.6"/>
<path d="M424.4 391.35 H427 M431.8 391.35 H434.4" stroke="#cfcdcc" stroke-width="0.6"/>
<path d="M424.4 392.7 H427 M431.8 392.7 H434.4" stroke="#cfcdcc" stroke-width="0.6"/>
<path d="M424.4 394.05 H427 M431.8 394.05 H434.4" stroke="#cfcdcc" stroke-width="0.6"/>
<path d="M424.4 395.4 H427 M431.8 395.4 H434.4" stroke="#cfcdcc" stroke-width="0.6"/>
<path d="M424.4 396.75 H427 M431.8 396.75 H434.4" stroke="#cfcdcc" stroke-width="0.6"/>
<path d="M424.4 398.1 H427 M431.8 398.1 H434.4" stroke="#cfcdcc" stroke-width="0.6"/>
<path d="M424.4 399.45 H427 M431.8 399.45 H434.4" stroke="#cfcdcc" stroke-width="0.6"/>
<path d="M424.4 400.8 H427 M431.8 400.8 H434.4" stroke="#cfcdcc" stroke-width="0.6"/>
<path d="M424.4 402.15 H427 M431.8 402.15 H434.4" stroke="#cfcdcc" stroke-width="0.6"/>
<text x="436.9" y="359.6" font-size="2.2" text-anchor="middle" fill="#888" stroke="#888" stroke-width="0.28">10</text>
<rect x="427.8" y="358.6" width="3.2" height="45.6" rx="1.2" fill="#2a2523" stroke="none" stroke-width="1" />
<rect x="423.9" y="403.6" width="11.1" height="22.7" rx="0" fill="#383332" stroke="#2a2523" stroke-width="0.6" />
<rect x="425.2" y="407.3" width="8.5" height="7.1" rx="0" fill="#8c8987" stroke="none" stroke-width="1" />
<rect x="425.2" y="416.8" width="8.5" height="6.4" rx="0" fill="#8c8987" stroke="none" stroke-width="1" />
<path d="M444.7 361.5 H448 M452.6 361.5 H455.9" stroke="#8f8c8a" stroke-width="0.8"/>
<path d="M445.7 364.2 H448 M452.6 364.2 H454.9" stroke="#bdbbb9" stroke-width="0.7"/>
<path d="M444.7 366.9 H448 M452.6 366.9 H455.9" stroke="#8f8c8a" stroke-width="0.8"/>
<path d="M445.7 369.6 H448 M452.6 369.6 H454.9" stroke="#bdbbb9" stroke-width="0.7"/>
<path d="M444.7 372.3 H448 M452.6 372.3 H455.9" stroke="#8f8c8a" stroke-width="0.8"/>
<path d="M445.7 375 H448 M452.6 375 H454.9" stroke="#bdbbb9" stroke-width="0.7"/>
<path d="M444.7 377.7 H448 M452.6 377.7 H455.9" stroke="#8f8c8a" stroke-width="0.8"/>
<path d="M445.7 380.4 H448 M452.6 380.4 H454.9" stroke="#bdbbb9" stroke-width="0.7"/>
<path d="M444.7 383.1 H448 M452.6 383.1 H455.9" stroke="#8f8c8a" stroke-width="0.8"/>
<path d="M445.7 385.8 H448 M452.6 385.8 H454.9" stroke="#bdbbb9" stroke-width="0.7"/>
<path d="M444.7 388.5 H448 M452.6 388.5 H455.9" stroke="#8f8c8a" stroke-width="0.8"/>
<path d="M445.7 391.2 H448 M452.6 391.2 H454.9" stroke="#bdbbb9" stroke-width="0.7"/>
<path d="M444.7 393.9 H448 M452.6 393.9 H455.9" stroke="#8f8c8a" stroke-width="0.8"/>
<path d="M445.7 396.6 H448 M452.6 396.6 H454.9" stroke="#bdbbb9" stroke-width="0.7"/>
<path d="M444.7 399.3 H448 M452.6 399.3 H455.9" stroke="#8f8c8a" stroke-width="0.8"/>
<path d="M445.7 402 H448 M452.6 402 H454.9" stroke="#bdbbb9" stroke-width="0.7"/>
<path d="M444.7 404.7 H448 M452.6 404.7 H455.9" stroke="#8f8c8a" stroke-width="0.8"/>
<path d="M445.7 407.4 H448 M452.6 407.4 H454.9" stroke="#bdbbb9" stroke-width="0.7"/>
<path d="M444.7 410.1 H448 M452.6 410.1 H455.9" stroke="#8f8c8a" stroke-width="0.8"/>
<path d="M445.7 412.8 H448 M452.6 412.8 H454.9" stroke="#bdbbb9" stroke-width="0.7"/>
<path d="M444.7 415.5 H448 M452.6 415.5 H455.9" stroke="#8f8c8a" stroke-width="0.8"/>
<path d="M445.7 418.2 H448 M452.6 418.2 H454.9" stroke="#bdbbb9" stroke-width="0.7"/>
<path d="M444.7 420.9 H448 M452.6 420.9 H455.9" stroke="#8f8c8a" stroke-width="0.8"/>
<path d="M445.7 423.6 H448 M452.6 423.6 H454.9" stroke="#bdbbb9" stroke-width="0.7"/>
<path d="M445.3 363 H447.9 M452.7 363 H455.3" stroke="#cfcdcc" stroke-width="0.6"/>
<path d="M445.3 364.35 H447.9 M452.7 364.35 H455.3" stroke="#cfcdcc" stroke-width="0.6"/>
<path d="M445.3 365.7 H447.9 M452.7 365.7 H455.3" stroke="#cfcdcc" stroke-width="0.6"/>
<path d="M445.3 367.05 H447.9 M452.7 367.05 H455.3" stroke="#cfcdcc" stroke-width="0.6"/>
<path d="M445.3 368.4 H447.9 M452.7 368.4 H455.3" stroke="#cfcdcc" stroke-width="0.6"/>
<path d="M445.3 369.75 H447.9 M452.7 369.75 H455.3" stroke="#cfcdcc" stroke-width="0.6"/>
<path d="M445.3 371.1 H447.9 M452.7 371.1 H455.3" stroke="#cfcdcc" stroke-width="0.6"/>
<path d="M445.3 372.45 H447.9 M452.7 372.45 H455.3" stroke="#cfcdcc" stroke-width="0.6"/>
<path d="M445.3 373.8 H447.9 M452.7 373.8 H455.3" stroke="#cfcdcc" stroke-width="0.6"/>
<path d="M445.3 375.15 H447.9 M452.7 375.15 H455.3" stroke="#cfcdcc" stroke-width="0.6"/>
<path d="M445.3 376.5 H447.9 M452.7 376.5 H455.3" stroke="#cfcdcc" stroke-width="0.6"/>
<path d="M445.3 377.85 H447.9 M452.7 377.85 H455.3" stroke="#cfcdcc" stroke-width="0.6"/>
<path d="M445.3 379.2 H447.9 M452.7 379.2 H455.3" stroke="#cfcdcc" stroke-width="0.6"/>
<path d="M445.3 380.55 H447.9 M452.7 380.55 H455.3" stroke="#cfcdcc" stroke-width="0.6"/>
<path d="M445.3 381.9 H447.9 M452.7 381.9 H455.3" stroke="#cfcdcc" stroke-width="0.6"/>
<path d="M445.3 383.25 H447.9 M452.7 383.25 H455.3" stroke="#cfcdcc" stroke-width="0.6"/>
<path d="M445.3 384.6 H447.9 M452.7 384.6 H455.3" stroke="#cfcdcc" stroke-width="0.6"/>
<path d="M445.3 385.95 H447.9 M452.7 385.95 H455.3" stroke="#cfcdcc" stroke-width="0.6"/>
<path d="M445.3 387.3 H447.9 M452.7 387.3 H455.3" stroke="#cfcdcc" stroke-width="0.6"/>
<path d="M445.3 388.65 H447.9 M452.7 388.65 H455.3" stroke="#cfcdcc" stroke-width="0.6"/>
<path d="M445.3 390 H447.9 M452.7 390 H455.3" stroke="#cfcdcc" stroke-width="0.6"/>
<path d="M445.3 391.35 H447.9 M452.7 391.35 H455.3" stroke="#cfcdcc" stroke-width="0.6"/>
<path d="M445.3 392.7 H447.9 M452.7 392.7 H455.3" stroke="#cfcdcc" stroke-width="0.6"/>
<path d="M445.3 394.05 H447.9 M452.7 394.05 H455.3" stroke="#cfcdcc" stroke-width="0.6"/>
<path d="M445.3 395.4 H447.9 M452.7 395.4 H455.3" stroke="#cfcdcc" stroke-width="0.6"/>
<path d="M445.3 396.75 H447.9 M452.7 396.75 H455.3" stroke="#cfcdcc" stroke-width="0.6"/>
<path d="M445.3 398.1 H447.9 M452.7 398.1 H455.3" stroke="#cfcdcc" stroke-width="0.6"/>
<path d="M445.3 399.45 H447.9 M452.7 399.45 H455.3" stroke="#cfcdcc" stroke-width="0.6"/>
<path d="M445.3 400.8 H447.9 M452.7 400.8 H455.3" stroke="#cfcdcc" stroke-width="0.6"/>
<path d="M445.3 402.15 H447.9 M452.7 402.15 H455.3" stroke="#cfcdcc" stroke-width="0.6"/>
<text x="457.8" y="359.6" font-size="2.2" text-anchor="middle" fill="#888" stroke="#888" stroke-width="0.28">10</text>
<rect x="448.7" y="358.6" width="3.2" height="45.6" rx="1.2" fill="#2a2523" stroke="none" stroke-width="1" />
<rect x="444.8" y="403.6" width="11.1" height="22.7" rx="0" fill="#383332" stroke="#2a2523" stroke-width="0.6" />
<rect x="446.1" y="407.3" width="8.5" height="7.1" rx="0" fill="#8c8987" stroke="none" stroke-width="1" />
<rect x="446.1" y="416.8" width="8.5" height="6.4" rx="0" fill="#8c8987" stroke="none" stroke-width="1" />
<path d="M465.7 361.5 H469 M473.6 361.5 H476.9" stroke="#8f8c8a" stroke-width="0.8"/>
<path d="M466.7 364.2 H469 M473.6 364.2 H475.9" stroke="#bdbbb9" stroke-width="0.7"/>
<path d="M465.7 366.9 H469 M473.6 366.9 H476.9" stroke="#8f8c8a" stroke-width="0.8"/>
<path d="M466.7 369.6 H469 M473.6 369.6 H475.9" stroke="#bdbbb9" stroke-width="0.7"/>
<path d="M465.7 372.3 H469 M473.6 372.3 H476.9" stroke="#8f8c8a" stroke-width="0.8"/>
<path d="M466.7 375 H469 M473.6 375 H475.9" stroke="#bdbbb9" stroke-width="0.7"/>
<path d="M465.7 377.7 H469 M473.6 377.7 H476.9" stroke="#8f8c8a" stroke-width="0.8"/>
<path d="M466.7 380.4 H469 M473.6 380.4 H475.9" stroke="#bdbbb9" stroke-width="0.7"/>
<path d="M465.7 383.1 H469 M473.6 383.1 H476.9" stroke="#8f8c8a" stroke-width="0.8"/>
<path d="M466.7 385.8 H469 M473.6 385.8 H475.9" stroke="#bdbbb9" stroke-width="0.7"/>
<path d="M465.7 388.5 H469 M473.6 388.5 H476.9" stroke="#8f8c8a" stroke-width="0.8"/>
<path d="M466.7 391.2 H469 M473.6 391.2 H475.9" stroke="#bdbbb9" stroke-width="0.7"/>
<path d="M465.7 393.9 H469 M473.6 393.9 H476.9" stroke="#8f8c8a" stroke-width="0.8"/>
<path d="M466.7 396.6 H469 M473.6 396.6 H475.9" stroke="#bdbbb9" stroke-width="0.7"/>
<path d="M465.7 399.3 H469 M473.6 399.3 H476.9" stroke="#8f8c8a" stroke-width="0.8"/>
<path d="M466.7 402 H469 M473.6 402 H475.9" stroke="#bdbbb9" stroke-width="0.7"/>
<path d="M465.7 404.7 H469 M473.6 404.7 H476.9" stroke="#8f8c8a" stroke-width="0.8"/>
<path d="M466.7 407.4 H469 M473.6 407.4 H475.9" stroke="#bdbbb9" stroke-width="0.7"/>
<path d="M465.7 410.1 H469 M473.6 410.1 H476.9" stroke="#8f8c8a" stroke-width="0.8"/>
<path d="M466.7 412.8 H469 M473.6 412.8 H475.9" stroke="#bdbbb9" stroke-width="0.7"/>
<path d="M465.7 415.5 H469 M473.6 415.5 H476.9" stroke="#8f8c8a" stroke-width="0.8"/>
<path d="M466.7 418.2 H469 M473.6 418.2 H475.9" stroke="#bdbbb9" stroke-width="0.7"/>
<path d="M465.7 420.9 H469 M473.6 420.9 H476.9" stroke="#8f8c8a" stroke-width="0.8"/>
<path d="M466.7 423.6 H469 M473.6 423.6 H475.9" stroke="#bdbbb9" stroke-width="0.7"/>
<path d="M466.3 363 H468.9 M473.7 363 H476.3" stroke="#cfcdcc" stroke-width="0.6"/>
<path d="M466.3 364.35 H468.9 M473.7 364.35 H476.3" stroke="#cfcdcc" stroke-width="0.6"/>
<path d="M466.3 365.7 H468.9 M473.7 365.7 H476.3" stroke="#cfcdcc" stroke-width="0.6"/>
<path d="M466.3 367.05 H468.9 M473.7 367.05 H476.3" stroke="#cfcdcc" stroke-width="0.6"/>
<path d="M466.3 368.4 H468.9 M473.7 368.4 H476.3" stroke="#cfcdcc" stroke-width="0.6"/>
<path d="M466.3 369.75 H468.9 M473.7 369.75 H476.3" stroke="#cfcdcc" stroke-width="0.6"/>
<path d="M466.3 371.1 H468.9 M473.7 371.1 H476.3" stroke="#cfcdcc" stroke-width="0.6"/>
<path d="M466.3 372.45 H468.9 M473.7 372.45 H476.3" stroke="#cfcdcc" stroke-width="0.6"/>
<path d="M466.3 373.8 H468.9 M473.7 373.8 H476.3" stroke="#cfcdcc" stroke-width="0.6"/>
<path d="M466.3 375.15 H468.9 M473.7 375.15 H476.3" stroke="#cfcdcc" stroke-width="0.6"/>
<path d="M466.3 376.5 H468.9 M473.7 376.5 H476.3" stroke="#cfcdcc" stroke-width="0.6"/>
<path d="M466.3 377.85 H468.9 M473.7 377.85 H476.3" stroke="#cfcdcc" stroke-width="0.6"/>
<path d="M466.3 379.2 H468.9 M473.7 379.2 H476.3" stroke="#cfcdcc" stroke-width="0.6"/>
<path d="M466.3 380.55 H468.9 M473.7 380.55 H476.3" stroke="#cfcdcc" stroke-width="0.6"/>
<path d="M466.3 381.9 H468.9 M473.7 381.9 H476.3" stroke="#cfcdcc" stroke-width="0.6"/>
<path d="M466.3 383.25 H468.9 M473.7 383.25 H476.3" stroke="#cfcdcc" stroke-width="0.6"/>
<path d="M466.3 384.6 H468.9 M473.7 384.6 H476.3" stroke="#cfcdcc" stroke-width="0.6"/>
<path d="M466.3 385.95 H468.9 M473.7 385.95 H476.3" stroke="#cfcdcc" stroke-width="0.6"/>
<path d="M466.3 387.3 H468.9 M473.7 387.3 H476.3" stroke="#cfcdcc" stroke-width="0.6"/>
<path d="M466.3 388.65 H468.9 M473.7 388.65 H476.3" stroke="#cfcdcc" stroke-width="0.6"/>
<path d="M466.3 390 H468.9 M473.7 390 H476.3" stroke="#cfcdcc" stroke-width="0.6"/>
<path d="M466.3 391.35 H468.9 M473.7 391.35 H476.3" stroke="#cfcdcc" stroke-width="0.6"/>
<path d="M466.3 392.7 H468.9 M473.7 392.7 H476.3" stroke="#cfcdcc" stroke-width="0.6"/>
<path d="M466.3 394.05 H468.9 M473.7 394.05 H476.3" stroke="#cfcdcc" stroke-width="0.6"/>
<path d="M466.3 395.4 H468.9 M473.7 395.4 H476.3" stroke="#cfcdcc" stroke-width="0.6"/>
<path d="M466.3 396.75 H468.9 M473.7 396.75 H476.3" stroke="#cfcdcc" stroke-width="0.6"/>
<path d="M466.3 398.1 H468.9 M473.7 398.1 H476.3" stroke="#cfcdcc" stroke-width="0.6"/>
<path d="M466.3 399.45 H468.9 M473.7 399.45 H476.3" stroke="#cfcdcc" stroke-width="0.6"/>
<path d="M466.3 400.8 H468.9 M473.7 400.8 H476.3" stroke="#cfcdcc" stroke-width="0.6"/>
<path d="M466.3 402.15 H468.9 M473.7 402.15 H476.3" stroke="#cfcdcc" stroke-width="0.6"/>
<text x="478.8" y="359.6" font-size="2.2" text-anchor="middle" fill="#888" stroke="#888" stroke-width="0.28">10</text>
<rect x="469.7" y="358.6" width="3.2" height="45.6" rx="1.2" fill="#2a2523" stroke="none" stroke-width="1" />
<rect x="465.8" y="403.6" width="11.1" height="22.7" rx="0" fill="#383332" stroke="#2a2523" stroke-width="0.6" />
<rect x="467.1" y="407.3" width="8.5" height="7.1" rx="0" fill="#8c8987" stroke="none" stroke-width="1" />
<rect x="467.1" y="416.8" width="8.5" height="6.4" rx="0" fill="#8c8987" stroke="none" stroke-width="1" />
<rect x="184" y="426.8" width="298" height="5.4" rx="0" fill="#2a2523" stroke="none" stroke-width="1" />
<path d="M184 426.8 H482 V432.2 H186 Q184 432.2 184 430.2 Z" fill="#2a2523"/>
<text x="202" y="431.4" font-size="4.2" text-anchor="middle" fill="#fff" stroke="#fff" stroke-width="0.1">1</text>
<text x="236.8" y="431.4" font-size="4.2" text-anchor="middle" fill="#fff" stroke="#fff" stroke-width="0.1">2</text>
<text x="271.8" y="431.4" font-size="4.2" text-anchor="middle" fill="#fff" stroke="#fff" stroke-width="0.1">3</text>
<text x="306.8" y="431.4" font-size="4.2" text-anchor="middle" fill="#fff" stroke="#fff" stroke-width="0.1">4</text>
<text x="341.2" y="431.4" font-size="4.2" text-anchor="middle" fill="#fff" stroke="#fff" stroke-width="0.1">5/6</text>
<text x="376" y="431.4" font-size="4.2" text-anchor="middle" fill="#fff" stroke="#fff" stroke-width="0.1">7/8</text>
<text x="406" y="431.3" font-size="4" text-anchor="middle" textLength="20.5" lengthAdjust="spacingAndGlyphs" fill="#fff" stroke="#fff" stroke-width="0.1">9/10 USB</text>
<text x="429.8" y="431.3" font-size="4" text-anchor="middle" fill="#fff" stroke="#fff" stroke-width="0.1">FX</text>
<text x="450.4" y="431.3" font-size="3.8" text-anchor="middle" textLength="17" lengthAdjust="spacingAndGlyphs" fill="#fff" stroke="#fff" stroke-width="0.1">GROUP 1-2</text>
<text x="471.6" y="431.3" font-size="4" text-anchor="middle" textLength="12" lengthAdjust="spacingAndGlyphs" fill="#fff" stroke="#fff" stroke-width="0.1">MAIN</text>
<text x="511.5" y="325.3" font-size="3.7" text-anchor="middle" textLength="48" lengthAdjust="spacingAndGlyphs" fill="#2a2523" stroke="#2a2523" stroke-width="0.28">PROFESSIONAL MIXER</text>
<path d="M482 327.2 H541 M482 328.3 H541" stroke="#2a2523" stroke-width="0.5"/>
<text x="486.8" y="335" font-size="2.2" text-anchor="middle" fill="#777" stroke="#777" stroke-width="0.28">USB</text>
<text x="486.8" y="337.6" font-size="2.2" text-anchor="middle" fill="#777" stroke="#777" stroke-width="0.28">REC</text>
<text x="497.8" y="331.2" font-size="2.4" text-anchor="middle" fill="#2a2523" stroke="#2a2523" stroke-width="0.28">MP3</text>
<rect x="491.5" y="332.4" width="13.5" height="7.2" rx="0.8" fill="#2a2523" stroke="none" stroke-width="1" />
<rect x="493.2" y="334.2" width="10.1" height="3.7" rx="0" fill="none" stroke="#fff" stroke-width="0.7" />
<path d="M494.5 336.9 H502" stroke="#fff" stroke-width="0.7" stroke-dasharray="1.2 0.8"/>
<path d="M508 329 V341.5" stroke="#2a2523" stroke-width="1.4"/>
<path d="M510 341.5 H537.5" stroke="#2a2523" stroke-width="0.9"/>
<rect x="485" y="343.6" width="52.6" height="35.6" rx="2.2" fill="#fff" stroke="#5c5856" stroke-width="1.3" />
<rect x="489.6" y="346.2" width="44.4" height="15.2" rx="0.6" fill="#fff" stroke="#3a3635" stroke-width="1" />
<text x="495.5" y="365.6" font-size="2.4" text-anchor="middle" fill="#777" stroke="#777" stroke-width="0.28">MODE</text>
<circle cx="495.5" cy="370.2" r="2.9" fill="#fff" stroke="#3a3635" stroke-width="0.9"/>
<circle cx="495.5" cy="370.2" r="1.4" fill="#3a3635" stroke="none" stroke-width="1"/>
<text x="506" y="365.6" font-size="2.4" text-anchor="middle" fill="#777" stroke="#777" stroke-width="0.28">|◄◄</text>
<circle cx="506" cy="370.2" r="2.9" fill="#fff" stroke="#3a3635" stroke-width="0.9"/>
<circle cx="506" cy="370.2" r="1.4" fill="#3a3635" stroke="none" stroke-width="1"/>
<text x="516.5" y="365.6" font-size="2.4" text-anchor="middle" fill="#777" stroke="#777" stroke-width="0.28">►►|</text>
<circle cx="516.5" cy="370.2" r="2.9" fill="#fff" stroke="#3a3635" stroke-width="0.9"/>
<circle cx="516.5" cy="370.2" r="1.4" fill="#3a3635" stroke="none" stroke-width="1"/>
<text x="527" y="365.6" font-size="2.4" text-anchor="middle" fill="#777" stroke="#777" stroke-width="0.28">MODE</text>
<circle cx="527" cy="370.2" r="2.9" fill="#fff" stroke="#3a3635" stroke-width="0.9"/>
<circle cx="527" cy="370.2" r="1.4" fill="#3a3635" stroke="none" stroke-width="1"/>
<rect x="488.5" y="375.2" width="45.5" height="3.3" rx="0" fill="#2a2523" stroke="none" stroke-width="1" />
<text x="511.3" y="378" font-size="3" text-anchor="middle" textLength="36" lengthAdjust="spacingAndGlyphs" fill="#fff" stroke="#fff" stroke-width="0.1">DIGITAL MP3 PLAYER</text>
<path d="M482 381.2 H541 M482 388.3 H541 M503.3 388.3 V432 M503.3 411 H541" stroke="#2a2523" stroke-width="0.6"/>
<text x="511.5" y="384.4" font-size="2.3" text-anchor="middle" textLength="55" lengthAdjust="spacingAndGlyphs" fill="#807c7b">1=HALL 2=ROOM 3=PLATE 4=DELAY</text>
<text x="511.5" y="387.2" font-size="2.3" text-anchor="middle" textLength="55" lengthAdjust="spacingAndGlyphs" fill="#807c7b">5=ECHO 6=CHORUS 7=FLANGER 8=REVERB</text>
<text x="487.6" y="393.6" font-size="2.1" text-anchor="middle" fill="#777" stroke="#777" stroke-width="0.28">PHANTOM</text>
<text x="498.2" y="393.6" font-size="2.1" text-anchor="middle" fill="#777" stroke="#777" stroke-width="0.28">POWER</text>
<circle cx="486.4" cy="397.1" r="1.45" fill="#2a2523" stroke="none" stroke-width="1"/>
<circle cx="498.4" cy="397.1" r="1.45" fill="#2a2523" stroke="none" stroke-width="1"/>
<circle cx="486.4" cy="403.2" r="1.45" fill="#2a2523" stroke="none" stroke-width="1"/>
<circle cx="498.4" cy="403.2" r="1.45" fill="#2a2523" stroke="none" stroke-width="1"/>
<path d="M486.4 403.2 H490 M495 403.2 H498.4" stroke="#2a2523" stroke-width="0.6"/>
<text x="492.5" y="404.1" font-size="2.3" text-anchor="middle" fill="#555" stroke="#555" stroke-width="0.28">+6</text>
<circle cx="486.4" cy="408.3" r="1.45" fill="#2a2523" stroke="none" stroke-width="1"/>
<circle cx="498.4" cy="408.3" r="1.45" fill="#2a2523" stroke="none" stroke-width="1"/>
<path d="M486.4 408.3 H490 M495 408.3 H498.4" stroke="#2a2523" stroke-width="0.6"/>
<text x="492.5" y="409.2" font-size="2.3" text-anchor="middle" fill="#555" stroke="#555" stroke-width="0.28">+3</text>
<circle cx="486.4" cy="413.5" r="1.45" fill="#2a2523" stroke="none" stroke-width="1"/>
<circle cx="498.4" cy="413.5" r="1.45" fill="#2a2523" stroke="none" stroke-width="1"/>
<path d="M486.4 413.5 H490 M495 413.5 H498.4" stroke="#2a2523" stroke-width="0.6"/>
<text x="492.5" y="414.4" font-size="2.3" text-anchor="middle" fill="#555" stroke="#555" stroke-width="0.28">0</text>
<circle cx="486.4" cy="418.8" r="1.45" fill="#2a2523" stroke="none" stroke-width="1"/>
<circle cx="498.4" cy="418.8" r="1.45" fill="#2a2523" stroke="none" stroke-width="1"/>
<path d="M486.4 418.8 H490 M495 418.8 H498.4" stroke="#2a2523" stroke-width="0.6"/>
<text x="492.5" y="419.7" font-size="2.3" text-anchor="middle" fill="#555" stroke="#555" stroke-width="0.28">-6</text>
<circle cx="486.4" cy="424" r="1.45" fill="#2a2523" stroke="none" stroke-width="1"/>
<circle cx="498.4" cy="424" r="1.45" fill="#2a2523" stroke="none" stroke-width="1"/>
<path d="M486.4 424 H490 M495 424 H498.4" stroke="#2a2523" stroke-width="0.6"/>
<text x="492.5" y="424.9" font-size="2.3" text-anchor="middle" fill="#555" stroke="#555" stroke-width="0.28">-12</text>
<rect x="484.8" y="427.3" width="3.6" height="3" rx="0" fill="none" stroke="#2a2523" stroke-width="0.5" />
<rect x="496.2" y="427.3" width="3.6" height="3" rx="0.8" fill="none" stroke="#777" stroke-width="0.5" />
<rect x="505.8" y="391.2" width="4.8" height="3" rx="0" fill="#d8d6d5" stroke="#2a2523" stroke-width="0.9" />
<rect x="514.2" y="391.3" width="15.8" height="2.7" rx="0" fill="#2a2523" stroke="none" stroke-width="1" />
<text x="522" y="393.7" font-size="2.5" text-anchor="middle" textLength="13" lengthAdjust="spacingAndGlyphs" fill="#fff" stroke="#fff" stroke-width="0.1">DSP/ECHO</text>
<path d="M533.6 395.2 l1 -4.6 l3 0 l-1 4.6 z" fill="#fff" stroke="#2a2523" stroke-width="0.6"/>
<rect x="510.4" y="397.4" width="8.8" height="8.7" rx="0" fill="#2a2523" stroke="none" stroke-width="1" />
<path d="M512.4 404.3 L514.8 399.3 L517.2 404.3 Z" fill="none" stroke="#fff" stroke-width="0.7"/>
<rect x="524.5" y="397.4" width="8.8" height="8.7" rx="0" fill="#2a2523" stroke="none" stroke-width="1" />
<path d="M526.5 399.3 L528.9 404.3 L531.3 399.3 Z" fill="none" stroke="#fff" stroke-width="0.7"/>
<text x="521.8" y="409.8" font-size="2" text-anchor="middle" textLength="22" lengthAdjust="spacingAndGlyphs" fill="#777" stroke="#777" stroke-width="0.28">PROGRAM SELECT</text>
<path d="M506.26 424.79 A6.9 6.9 0 1 1 515.14 424.79" fill="none" stroke="#8f8b8a" stroke-width="0.7" stroke-dasharray="0.45 1.75"/>
<circle cx="510.7" cy="419.5" r="5.05" fill="#787472" stroke="#35312f" stroke-width="1.25"/>
<circle cx="510.7" cy="419.5" r="5.05" fill="none" stroke="#706c6a" stroke-width="1.25" stroke-dasharray="0.5 0.9"/>
<circle cx="510.7" cy="419.5" r="2.9" fill="#423e3d" stroke="#4d4948" stroke-width="0.5"/>
<text x="503.5" y="425.5" font-size="1.9" text-anchor="middle" fill="#8a8685">-15</text>
<text x="517.9" y="425.5" font-size="1.9" text-anchor="middle" fill="#8a8685">+15</text>
<rect x="505.5" y="426.6" width="12.1" height="3.6" rx="0" fill="#2a2523" stroke="none" stroke-width="1" />
<text x="511.5" y="429.5" font-size="2.5" text-anchor="middle" textLength="9" lengthAdjust="spacingAndGlyphs" fill="#fff" stroke="#fff" stroke-width="0.1">PHONES</text>
<text x="518.8" y="425.6" font-size="2" text-anchor="middle" fill="#777" stroke="#777" stroke-width="0.28">MAX</text>
<path d="M519.6 415.6 a1.5 1.5 0 0 1 3 0" fill="none" stroke="#777" stroke-width="0.5"/>
<circle cx="533.4" cy="419.5" r="6.3" fill="#2a2523" stroke="none" stroke-width="1"/>
<circle cx="533.4" cy="419.5" r="3.5" fill="none" stroke="#777170" stroke-width="0.7"/>
<circle cx="533.4" cy="419.5" r="2.2" fill="#fff" stroke="none" stroke-width="1"/>
<rect x="527.4" y="428.4" width="11.4" height="1.8" rx="0" fill="#2a2523" stroke="none" stroke-width="1" />
</g>
<g id="wires">
<path d="M154 191 V324.8 H186" fill="none" stroke="#9b9b9b" stroke-width="2.45" />
<path d="M219 185.5 V201 H274 V185.5" fill="none" stroke="#9b9b9b" stroke-width="2.45" />
<path d="M246.8 201 V230" fill="none" stroke="#9b9b9b" stroke-width="2.45" />
<path d="M201.25 230 H372.7" fill="none" stroke="#9b9b9b" stroke-width="2.45" />
<path d="M201.25 229 V262" fill="none" stroke="#9b9b9b" stroke-width="2.45" />
<polygon points="201.25,268.2 198.55,262.2 203.95,262.2" fill="#a6a6a6"/>
<path d="M235.3 229 V262" fill="none" stroke="#9b9b9b" stroke-width="2.45" />
<polygon points="235.3,268.2 232.6,262.2 238,262.2" fill="#a6a6a6"/>
<path d="M268.2 229 V262" fill="none" stroke="#9b9b9b" stroke-width="2.45" />
<polygon points="268.2,268.2 265.5,262.2 270.9,262.2" fill="#a6a6a6"/>
<path d="M304 229 V262" fill="none" stroke="#9b9b9b" stroke-width="2.45" />
<polygon points="304,268.2 301.3,262.2 306.7,262.2" fill="#a6a6a6"/>
<path d="M338.6 229 V262" fill="none" stroke="#9b9b9b" stroke-width="2.45" />
<polygon points="338.6,268.2 335.9,262.2 341.3,262.2" fill="#a6a6a6"/>
<path d="M372.7 229 V262" fill="none" stroke="#9b9b9b" stroke-width="2.45" />
<polygon points="372.7,268.2 370,262.2 375.4,262.2" fill="#a6a6a6"/>
<path d="M341.6 165 V201 H379.3 V287.5 H332.6 V295 M366.2 287.5 V295" fill="none" stroke="#9b9b9b" stroke-width="2.45" />
<path d="M399.6 178 V273" fill="none" stroke="#9b9b9b" stroke-width="2.45" />
<polygon points="399.6,278.5 397,273 402.2,273" fill="#9b9b9b"/>
<path d="M414.4 184 V280" fill="none" stroke="#9b9b9b" stroke-width="2.45" />
<polygon points="414.4,178.6 411.05,185.4 417.75,185.4" fill="#9b9b9b"/>
<path d="M429.6 275 V202.2 H487.4 V84" fill="none" stroke="#9b9b9b" stroke-width="2.45" />
<polygon points="487.4,77.6 484.05,84.4 490.75,84.4" fill="#9b9b9b"/>
<path d="M506.4 78.4 V212.4 H441.7 V300.2" fill="none" stroke="#9b9b9b" stroke-width="2.45" />
<polygon points="437.6,300.2 441.2,298.2 441.2,302.2" fill="#9b9b9b"/>
<path d="M450.5 275 V224.3 H579.5 V171" fill="none" stroke="#9b9b9b" stroke-width="2.45" />
<path d="M472.4 275 V233.2 H594.7 V171" fill="none" stroke="#9b9b9b" stroke-width="2.45" />
<path d="M499 275 V240 H609.5 V171" fill="none" stroke="#9b9b9b" stroke-width="2.45" />
<path d="M525 275 V248.6 H625 V171" fill="none" stroke="#9b9b9b" stroke-width="2.45" />
<polygon points="579.5,164.9 576.15,171.7 582.85,171.7" fill="#9b9b9b"/>
<polygon points="594.7,164.9 591.35,171.7 598.05,171.7" fill="#9b9b9b"/>
<polygon points="609.5,164.9 606.15,171.7 612.85,171.7" fill="#9b9b9b"/>
<polygon points="625,164.9 621.65,171.7 628.35,171.7" fill="#9b9b9b"/>
<path d="M596 118.5 V104" fill="none" stroke="#b0b0b0" stroke-width="2.45" />
<polygon points="596,98.8 593,104.8 599,104.8" fill="#b0b0b0"/>
<path d="M608.2 118.5 V104" fill="none" stroke="#b0b0b0" stroke-width="2.45" />
<polygon points="608.2,98.8 605.2,104.8 611.2,104.8" fill="#b0b0b0"/>
<path d="M509 336 H565 V405.2 H578.8" fill="none" stroke="#9b9b9b" stroke-width="2.45" />
<path d="M602.3 363.1 H578.8 V448.3 H602.4" fill="none" stroke="#9b9b9b" stroke-width="2.45" />
<path d="M416.2 326.5 V426.8 M416.2 432.6 V493.4" fill="none" stroke="#9b9b9b" stroke-width="2.45" />
<path d="M533.8 431.5 V488" fill="none" stroke="#9b9b9b" stroke-width="2.45" />
<polygon points="533.8,493.6 530.8,487.6 536.8,487.6" fill="#9b9b9b"/>
<path d="M200.8 312.6 V316.3 H306.3 V312.6 M235.4 312.6 V316.3 M270.4 312.6 V316.3" fill="none" stroke="#adadad" stroke-width="2.4" />
</g>
<g id="mixer-parts">
<circle cx="201.1" cy="280.5" r="10.3" fill="#fff" stroke="#2a2523" stroke-width="1.5"/>
<circle cx="201.1" cy="280.5" r="8.4" fill="#fff" stroke="#2a2523" stroke-width="1.2"/>
<circle cx="201.1" cy="280.5" r="6.8" fill="#fff" stroke="#3f3b3a" stroke-width="0.9"/>
<circle cx="201.1" cy="280.5" r="5.6" fill="#fff" stroke="#a5a1a0" stroke-width="0.4"/>
<circle cx="198" cy="280.4" r="1" fill="#fff" stroke="#2a2523" stroke-width="0.7"/>
<circle cx="204.2" cy="280.4" r="1" fill="#fff" stroke="#2a2523" stroke-width="0.7"/>
<circle cx="201.1" cy="283.4" r="1" fill="#fff" stroke="#2a2523" stroke-width="0.7"/>
<circle cx="192.8" cy="269.6" r="2.7" fill="#2a2523" stroke="none" stroke-width="1"/>
<circle cx="209.4" cy="290.9" r="2.7" fill="#2a2523" stroke="none" stroke-width="1"/>
<text x="201.1" y="294" font-size="3" text-anchor="middle" textLength="4.8" lengthAdjust="spacingAndGlyphs" fill="#2a2523" stroke="#2a2523" stroke-width="0.35">MIC</text>
<circle cx="201.1" cy="302.2" r="6.2" fill="#2a2523" stroke="none" stroke-width="1"/>
<circle cx="201.1" cy="302.2" r="3.5" fill="none" stroke="#777170" stroke-width="0.7"/>
<circle cx="201.1" cy="302.2" r="1.4" fill="#fff" stroke="none" stroke-width="1"/>
<text x="201.1" y="312.7" font-size="3.1" text-anchor="middle" textLength="5.6" lengthAdjust="spacingAndGlyphs" fill="#2a2523" stroke="#2a2523" stroke-width="0.35">LINE</text>
<circle cx="236.1" cy="280.5" r="10.3" fill="#fff" stroke="#2a2523" stroke-width="1.5"/>
<circle cx="236.1" cy="280.5" r="8.4" fill="#fff" stroke="#2a2523" stroke-width="1.2"/>
<circle cx="236.1" cy="280.5" r="6.8" fill="#fff" stroke="#3f3b3a" stroke-width="0.9"/>
<circle cx="236.1" cy="280.5" r="5.6" fill="#fff" stroke="#a5a1a0" stroke-width="0.4"/>
<circle cx="233" cy="280.4" r="1" fill="#fff" stroke="#2a2523" stroke-width="0.7"/>
<circle cx="239.2" cy="280.4" r="1" fill="#fff" stroke="#2a2523" stroke-width="0.7"/>
<circle cx="236.1" cy="283.4" r="1" fill="#fff" stroke="#2a2523" stroke-width="0.7"/>
<circle cx="227.8" cy="269.6" r="2.7" fill="#2a2523" stroke="none" stroke-width="1"/>
<circle cx="244.4" cy="290.9" r="2.7" fill="#2a2523" stroke="none" stroke-width="1"/>
<text x="236.1" y="294" font-size="3" text-anchor="middle" textLength="4.8" lengthAdjust="spacingAndGlyphs" fill="#2a2523" stroke="#2a2523" stroke-width="0.35">MIC</text>
<circle cx="236.1" cy="302.2" r="6.2" fill="#2a2523" stroke="none" stroke-width="1"/>
<circle cx="236.1" cy="302.2" r="3.5" fill="none" stroke="#777170" stroke-width="0.7"/>
<circle cx="236.1" cy="302.2" r="1.4" fill="#fff" stroke="none" stroke-width="1"/>
<text x="236.1" y="312.7" font-size="3.1" text-anchor="middle" textLength="5.6" lengthAdjust="spacingAndGlyphs" fill="#2a2523" stroke="#2a2523" stroke-width="0.35">LINE</text>
<circle cx="270.5" cy="280.5" r="10.3" fill="#fff" stroke="#2a2523" stroke-width="1.5"/>
<circle cx="270.5" cy="280.5" r="8.4" fill="#fff" stroke="#2a2523" stroke-width="1.2"/>
<circle cx="270.5" cy="280.5" r="6.8" fill="#fff" stroke="#3f3b3a" stroke-width="0.9"/>
<circle cx="270.5" cy="280.5" r="5.6" fill="#fff" stroke="#a5a1a0" stroke-width="0.4"/>
<circle cx="267.4" cy="280.4" r="1" fill="#fff" stroke="#2a2523" stroke-width="0.7"/>
<circle cx="273.6" cy="280.4" r="1" fill="#fff" stroke="#2a2523" stroke-width="0.7"/>
<circle cx="270.5" cy="283.4" r="1" fill="#fff" stroke="#2a2523" stroke-width="0.7"/>
<circle cx="262.2" cy="269.6" r="2.7" fill="#2a2523" stroke="none" stroke-width="1"/>
<circle cx="278.8" cy="290.9" r="2.7" fill="#2a2523" stroke="none" stroke-width="1"/>
<text x="270.5" y="294" font-size="3" text-anchor="middle" textLength="4.8" lengthAdjust="spacingAndGlyphs" fill="#2a2523" stroke="#2a2523" stroke-width="0.35">MIC</text>
<circle cx="270.5" cy="302.2" r="6.2" fill="#2a2523" stroke="none" stroke-width="1"/>
<circle cx="270.5" cy="302.2" r="3.5" fill="none" stroke="#777170" stroke-width="0.7"/>
<circle cx="270.5" cy="302.2" r="1.4" fill="#fff" stroke="none" stroke-width="1"/>
<text x="270.5" y="312.7" font-size="3.1" text-anchor="middle" textLength="5.6" lengthAdjust="spacingAndGlyphs" fill="#2a2523" stroke="#2a2523" stroke-width="0.35">LINE</text>
<circle cx="305.1" cy="280.5" r="10.3" fill="#fff" stroke="#2a2523" stroke-width="1.5"/>
<circle cx="305.1" cy="280.5" r="8.4" fill="#fff" stroke="#2a2523" stroke-width="1.2"/>
<circle cx="305.1" cy="280.5" r="6.8" fill="#fff" stroke="#3f3b3a" stroke-width="0.9"/>
<circle cx="305.1" cy="280.5" r="5.6" fill="#fff" stroke="#a5a1a0" stroke-width="0.4"/>
<circle cx="302" cy="280.4" r="1" fill="#fff" stroke="#2a2523" stroke-width="0.7"/>
<circle cx="308.2" cy="280.4" r="1" fill="#fff" stroke="#2a2523" stroke-width="0.7"/>
<circle cx="305.1" cy="283.4" r="1" fill="#fff" stroke="#2a2523" stroke-width="0.7"/>
<circle cx="296.8" cy="269.6" r="2.7" fill="#2a2523" stroke="none" stroke-width="1"/>
<circle cx="313.4" cy="290.9" r="2.7" fill="#2a2523" stroke="none" stroke-width="1"/>
<text x="305.1" y="294" font-size="3" text-anchor="middle" textLength="4.8" lengthAdjust="spacingAndGlyphs" fill="#2a2523" stroke="#2a2523" stroke-width="0.35">MIC</text>
<circle cx="305.1" cy="302.2" r="6.2" fill="#2a2523" stroke="none" stroke-width="1"/>
<circle cx="305.1" cy="302.2" r="3.5" fill="none" stroke="#777170" stroke-width="0.7"/>
<circle cx="305.1" cy="302.2" r="1.4" fill="#fff" stroke="none" stroke-width="1"/>
<text x="305.1" y="312.7" font-size="3.1" text-anchor="middle" textLength="5.6" lengthAdjust="spacingAndGlyphs" fill="#2a2523" stroke="#2a2523" stroke-width="0.35">LINE</text>
<circle cx="340.4" cy="280.5" r="10.3" fill="#fff" stroke="#2a2523" stroke-width="1.5"/>
<circle cx="340.4" cy="280.5" r="8.4" fill="#fff" stroke="#2a2523" stroke-width="1.2"/>
<circle cx="340.4" cy="280.5" r="6.8" fill="#fff" stroke="#3f3b3a" stroke-width="0.9"/>
<circle cx="340.4" cy="280.5" r="5.6" fill="#fff" stroke="#a5a1a0" stroke-width="0.4"/>
<circle cx="337.3" cy="280.4" r="1" fill="#fff" stroke="#2a2523" stroke-width="0.7"/>
<circle cx="343.5" cy="280.4" r="1" fill="#fff" stroke="#2a2523" stroke-width="0.7"/>
<circle cx="340.4" cy="283.4" r="1" fill="#fff" stroke="#2a2523" stroke-width="0.7"/>
<circle cx="332.1" cy="269.6" r="2.7" fill="#2a2523" stroke="none" stroke-width="1"/>
<circle cx="348.7" cy="290.9" r="2.7" fill="#2a2523" stroke="none" stroke-width="1"/>
<text x="340.4" y="294" font-size="3" text-anchor="middle" textLength="4.8" lengthAdjust="spacingAndGlyphs" fill="#2a2523" stroke="#2a2523" stroke-width="0.35">MIC</text>
<circle cx="332.5" cy="302.1" r="6" fill="#2a2523" stroke="none" stroke-width="1"/>
<circle cx="332.5" cy="302.1" r="3.5" fill="none" stroke="#777170" stroke-width="0.7"/>
<circle cx="332.5" cy="302.1" r="1.2" fill="#fff" stroke="none" stroke-width="1"/>
<circle cx="348.3" cy="302.1" r="6" fill="#2a2523" stroke="none" stroke-width="1"/>
<circle cx="348.3" cy="302.1" r="3.5" fill="none" stroke="#777170" stroke-width="0.7"/>
<circle cx="348.3" cy="302.1" r="1.2" fill="#fff" stroke="none" stroke-width="1"/>
<text x="332.7" y="313.1" font-size="3" text-anchor="middle" textLength="15.2" lengthAdjust="spacingAndGlyphs" fill="#2a2523" stroke="#2a2523" stroke-width="0.35">LINE/LEFT</text>
<text x="349" y="313.1" font-size="3" text-anchor="middle" textLength="10.2" lengthAdjust="spacingAndGlyphs" fill="#2a2523" stroke="#2a2523" stroke-width="0.35">LINE/R</text>
<circle cx="375.5" cy="280.5" r="10.3" fill="#fff" stroke="#2a2523" stroke-width="1.5"/>
<circle cx="375.5" cy="280.5" r="8.4" fill="#fff" stroke="#2a2523" stroke-width="1.2"/>
<circle cx="375.5" cy="280.5" r="6.8" fill="#fff" stroke="#3f3b3a" stroke-width="0.9"/>
<circle cx="375.5" cy="280.5" r="5.6" fill="#fff" stroke="#a5a1a0" stroke-width="0.4"/>
<circle cx="372.4" cy="280.4" r="1" fill="#fff" stroke="#2a2523" stroke-width="0.7"/>
<circle cx="378.6" cy="280.4" r="1" fill="#fff" stroke="#2a2523" stroke-width="0.7"/>
<circle cx="375.5" cy="283.4" r="1" fill="#fff" stroke="#2a2523" stroke-width="0.7"/>
<circle cx="367.2" cy="269.6" r="2.7" fill="#2a2523" stroke="none" stroke-width="1"/>
<circle cx="383.8" cy="290.9" r="2.7" fill="#2a2523" stroke="none" stroke-width="1"/>
<text x="375.5" y="294" font-size="3" text-anchor="middle" textLength="4.8" lengthAdjust="spacingAndGlyphs" fill="#2a2523" stroke="#2a2523" stroke-width="0.35">MIC</text>
<circle cx="367.6" cy="302.1" r="6" fill="#2a2523" stroke="none" stroke-width="1"/>
<circle cx="367.6" cy="302.1" r="3.5" fill="none" stroke="#777170" stroke-width="0.7"/>
<circle cx="367.6" cy="302.1" r="1.2" fill="#fff" stroke="none" stroke-width="1"/>
<circle cx="383.4" cy="302.1" r="6" fill="#2a2523" stroke="none" stroke-width="1"/>
<circle cx="383.4" cy="302.1" r="3.5" fill="none" stroke="#777170" stroke-width="0.7"/>
<circle cx="383.4" cy="302.1" r="1.2" fill="#fff" stroke="none" stroke-width="1"/>
<text x="367.8" y="313.1" font-size="3" text-anchor="middle" textLength="15.2" lengthAdjust="spacingAndGlyphs" fill="#2a2523" stroke="#2a2523" stroke-width="0.35">LINE/LEFT</text>
<text x="384.1" y="313.1" font-size="3" text-anchor="middle" textLength="10.2" lengthAdjust="spacingAndGlyphs" fill="#2a2523" stroke="#2a2523" stroke-width="0.35">LINE/R</text>
<rect x="394.4" y="265.5" width="10.6" height="4" rx="0" fill="#2a2523" stroke="none" stroke-width="1" />
<text x="399.7" y="269" font-size="3.4" text-anchor="middle" fill="#fff" stroke="#fff" stroke-width="0.1">9/10</text>
<rect x="407.5" y="265.5" width="10.3" height="4" rx="0" fill="#2a2523" stroke="none" stroke-width="1" />
<text x="412.6" y="269" font-size="3.4" text-anchor="middle" fill="#fff" stroke="#fff" stroke-width="0.1">REC</text>
<text x="399.7" y="274.6" font-size="2.6" text-anchor="middle" fill="#2a2523" stroke="#2a2523" stroke-width="0.28">INPUT</text>
<text x="412.6" y="274.6" font-size="2.6" text-anchor="middle" fill="#2a2523" stroke="#2a2523" stroke-width="0.28">OUTPUT</text>
<text x="397.2" y="280.2" font-size="2.6" text-anchor="middle" fill="#2a2523" stroke="#2a2523" stroke-width="0.28">L</text>
<text x="415.2" y="280.2" font-size="2.6" text-anchor="middle" fill="#2a2523" stroke="#2a2523" stroke-width="0.28">L</text>
<circle cx="400" cy="287.5" r="4.9" fill="#2a2523" stroke="none" stroke-width="1"/>
<circle cx="400" cy="287.5" r="1.1" fill="#fff" stroke="none" stroke-width="1"/>
<circle cx="400" cy="299.4" r="4.9" fill="#2a2523" stroke="none" stroke-width="1"/>
<circle cx="400" cy="299.4" r="1.1" fill="#fff" stroke="none" stroke-width="1"/>
<circle cx="412.2" cy="287.5" r="4.9" fill="#2a2523" stroke="none" stroke-width="1"/>
<circle cx="412.2" cy="287.5" r="1.1" fill="#fff" stroke="none" stroke-width="1"/>
<circle cx="412.2" cy="299.4" r="4.9" fill="#2a2523" stroke="none" stroke-width="1"/>
<circle cx="412.2" cy="299.4" r="1.1" fill="#fff" stroke="none" stroke-width="1"/>
<circle cx="406.1" cy="293.4" r="2.6" fill="#2a2523" stroke="none" stroke-width="1"/>
<text x="397" y="308.6" font-size="3" text-anchor="middle" fill="#2a2523" stroke="#2a2523" stroke-width="0.28">R</text>
<text x="414.6" y="308.6" font-size="3" text-anchor="middle" fill="#2a2523" stroke="#2a2523" stroke-width="0.28">R</text>
<rect x="421.3" y="265.5" width="16.7" height="4" rx="0" fill="#2a2523" stroke="none" stroke-width="1" />
<text x="429.6" y="269" font-size="3.4" text-anchor="middle" fill="#fff" stroke="#fff" stroke-width="0.1">AUX</text>
<circle cx="429.6" cy="279.6" r="6.3" fill="#2a2523" stroke="none" stroke-width="1"/>
<circle cx="429.6" cy="279.6" r="3.5" fill="none" stroke="#777170" stroke-width="0.7"/>
<circle cx="429.6" cy="279.6" r="1.3" fill="#fff" stroke="none" stroke-width="1"/>
<path d="M421.3 290 H438" stroke="#2a2523" stroke-width="0.5"/>
<circle cx="429.6" cy="299.6" r="6.3" fill="#2a2523" stroke="none" stroke-width="1"/>
<circle cx="429.6" cy="299.6" r="3.5" fill="none" stroke="#777170" stroke-width="0.7"/>
<circle cx="429.6" cy="299.6" r="2.6" fill="#fff" stroke="none" stroke-width="1"/>
<text x="429.8" y="310.8" font-size="3.4" text-anchor="middle" textLength="13.5" lengthAdjust="spacingAndGlyphs" fill="#2a2523" stroke="#2a2523" stroke-width="0.28">RETURN</text>
<rect x="442.6" y="265.5" width="16.2" height="4" rx="0" fill="#2a2523" stroke="none" stroke-width="1" />
<text x="450.6" y="268.9" font-size="3" text-anchor="middle" textLength="13" lengthAdjust="spacingAndGlyphs" fill="#fff" stroke="#fff" stroke-width="0.1">STEREO</text>
<circle cx="457.9" cy="269.6" r="0.8" fill="#2a2523" stroke="none" stroke-width="1"/>
<circle cx="450.3" cy="279.6" r="6.1" fill="#2a2523" stroke="none" stroke-width="1"/>
<circle cx="450.3" cy="279.6" r="3.5" fill="none" stroke="#777170" stroke-width="0.7"/>
<circle cx="450.3" cy="279.6" r="1.3" fill="#fff" stroke="none" stroke-width="1"/>
<circle cx="450.3" cy="299.6" r="6.1" fill="#2a2523" stroke="none" stroke-width="1"/>
<circle cx="450.3" cy="299.6" r="3.5" fill="none" stroke="#777170" stroke-width="0.7"/>
<circle cx="450.3" cy="299.6" r="1.3" fill="#fff" stroke="none" stroke-width="1"/>
<text x="450.3" y="290.9" font-size="3" text-anchor="middle" fill="#2a2523" stroke="#2a2523" stroke-width="0.28">L</text>
<text x="450.3" y="311" font-size="3.2" text-anchor="middle" fill="#2a2523" stroke="#2a2523" stroke-width="0.28">R</text>
<rect x="462.6" y="265.5" width="17.4" height="4" rx="0" fill="#2a2523" stroke="none" stroke-width="1" />
<text x="471.3" y="268.9" font-size="3" text-anchor="middle" textLength="13" lengthAdjust="spacingAndGlyphs" fill="#fff" stroke="#fff" stroke-width="0.1">GROUP</text>
<circle cx="471.3" cy="279.6" r="6.1" fill="#2a2523" stroke="none" stroke-width="1"/>
<circle cx="471.3" cy="279.6" r="3.5" fill="none" stroke="#777170" stroke-width="0.7"/>
<circle cx="471.3" cy="279.6" r="1.3" fill="#fff" stroke="none" stroke-width="1"/>
<circle cx="471.3" cy="299.6" r="6.1" fill="#2a2523" stroke="none" stroke-width="1"/>
<circle cx="471.3" cy="299.6" r="3.5" fill="none" stroke="#777170" stroke-width="0.7"/>
<circle cx="471.3" cy="299.6" r="1.3" fill="#fff" stroke="none" stroke-width="1"/>
<text x="471.3" y="290.9" font-size="3" text-anchor="middle" fill="#2a2523" stroke="#2a2523" stroke-width="0.28">1</text>
<text x="471.3" y="311" font-size="3.2" text-anchor="middle" fill="#2a2523" stroke="#2a2523" stroke-width="0.28">2</text>
<circle cx="498.2" cy="294.3" r="10.1" fill="none" stroke="#b9b5b3" stroke-width="0.7"/>
<circle cx="498.2" cy="294.3" r="8.4" fill="none" stroke="#5d5856" stroke-width="0.6"/>
<circle cx="498.2" cy="294.3" r="6.9" fill="#fff" stroke="none" stroke-width="1"/>
<circle cx="494.6" cy="293.9" r="1.25" fill="#2a2523" stroke="none" stroke-width="1"/>
<circle cx="501.8" cy="293.9" r="1.25" fill="#2a2523" stroke="none" stroke-width="1"/>
<circle cx="498.4" cy="297.9" r="1.25" fill="#2a2523" stroke="none" stroke-width="1"/>
<circle cx="524.7" cy="294.3" r="10.1" fill="none" stroke="#b9b5b3" stroke-width="0.7"/>
<circle cx="524.7" cy="294.3" r="8.4" fill="none" stroke="#5d5856" stroke-width="0.6"/>
<circle cx="524.7" cy="294.3" r="6.9" fill="#fff" stroke="none" stroke-width="1"/>
<circle cx="521.1" cy="293.9" r="1.25" fill="#2a2523" stroke="none" stroke-width="1"/>
<circle cx="528.3" cy="293.9" r="1.25" fill="#2a2523" stroke="none" stroke-width="1"/>
<circle cx="524.9" cy="297.9" r="1.25" fill="#2a2523" stroke="none" stroke-width="1"/>
<text x="498.2" y="310.6" font-size="3.8" text-anchor="middle" fill="#fff" stroke="#fff" stroke-width="0.1">[R</text>
<text x="524.9" y="310.6" font-size="3.8" text-anchor="middle" fill="#fff" stroke="#fff" stroke-width="0.1">[L]</text>
</g>
<g id="devices">
<path d="M144.5 184 C148 187.8 152.6 186.6 154 181 C155.5 174 154.5 165.5 161.5 162.8" fill="none" stroke="#2a2523" stroke-width="1.0"/>
<path d="M142.4 160.2 C140.4 162 140.5 164.5 140.1 167 C139.5 170 135 171 131.6 173.6 C128.2 176.3 127.6 180 129.6 182.6 C132.6 186.2 139 186 143.4 186.2 C145.4 186.2 145.6 182.6 146.4 179.6 C147.4 176 150 173.4 152.6 170.8 C150.4 170.4 148 172.2 146.4 174.2 L143.2 168.6 C142.6 165.6 143.8 162.6 144.2 160.4 Z" fill="#fff" stroke="#2a2523" stroke-width="1.25" stroke-linejoin="round"/>
<path d="M158.2 143.9 L157.3 145.0 L152.7 154 L146.6 163 L143.4 166.6 L140.2 171.4 L136.6 178.6 L140.6 181.6 L147.6 171 L149.6 166 L151.3 163 L156.6 154 L160.9 146.2 L162.9 144.8 L167.5 140.0 L162 141.5 Z" fill="#2a2523" stroke="#2a2523" stroke-width="0.4" stroke-linejoin="round"/>
<path d="M140.4 174.6 l4.6 3.0 M142.6 171.2 l4.4 2.8" stroke="#2a2523" stroke-width="1.5"/>
<rect x="161.5" y="158.6" width="21.2" height="30.3" rx="1.6" fill="#6f6d6d" stroke="#2a2523" stroke-width="1.2" />
<rect x="163.2" y="164.2" width="17.8" height="22.8" rx="0" fill="#8f8d8d" stroke="#555" stroke-width="0.5" />
<rect x="162.8" y="160" width="18.6" height="3" rx="0" fill="#3a3635" stroke="none" stroke-width="1" />
<path d="M164 160.8 H180.4" stroke="#aaa" stroke-width="0.8" stroke-dasharray="1 1.2"/>
<rect x="163.6" y="189.2" width="2" height="1" rx="0" fill="#2a2523" stroke="none" stroke-width="1" />
<rect x="178.4" y="189.2" width="2" height="1" rx="0" fill="#2a2523" stroke="none" stroke-width="1" />
<path d="M177.4 171.4 L185.6 177.6" stroke="#2a2523" stroke-width="2.6" stroke-linecap="round"/>
<circle cx="176.6" cy="170.8" r="1.9" fill="#8b8989" stroke="#ddd" stroke-width="0.8"/>
<g transform="translate(0 0.5)">
<path d="M211.6 146.6 C208.4 140 208.6 129.9 216.9 129.9 C225.2 129.9 225.4 140 222.6 146.6 Z" fill="#fff" stroke="#2a2523" stroke-width="1"/>
<path d="M211.6 145.6 H222.6 M211.7 147.6 H222.5" stroke="#2a2523" stroke-width="0.8"/>
<path d="M211.7 147.6 L214 174.5 L213.8 185.2 H221.6 L221.4 174.5 L222.5 147.6 Z" fill="#fff" stroke="#2a2523" stroke-width="1" stroke-linejoin="round"/>
<path d="M214 174.5 H221.4" stroke="#2a2523" stroke-width="0.9"/>
</g>
<path d="M265.5 148.4 V134.2 Q265.5 130.9 268.9 130.9 H278.4 Q281.8 130.9 281.8 134.2 V148.4 Z" fill="#fff" stroke="#2a2523" stroke-width="1"/>
<path d="M267.8 132.2 V139.6" stroke="#2a2523" stroke-width="1.25"/>
<path d="M269.75 132.2 V139.6" stroke="#2a2523" stroke-width="1.25"/>
<path d="M271.7 132.2 V139.6" stroke="#2a2523" stroke-width="1.25"/>
<path d="M273.65 132.2 V139.6" stroke="#2a2523" stroke-width="1.25"/>
<path d="M275.6 132.2 V139.6" stroke="#2a2523" stroke-width="1.25"/>
<path d="M277.55 132.2 V139.6" stroke="#2a2523" stroke-width="1.25"/>
<path d="M279.5 132.2 V139.6" stroke="#2a2523" stroke-width="1.25"/>
<rect x="264.7" y="148.4" width="17.9" height="4.8" rx="0.8" fill="#fff" stroke="#2a2523" stroke-width="1" />
<circle cx="273.4" cy="150.8" r="0.9" fill="#2a2523" stroke="none" stroke-width="1"/>
<rect x="265.5" y="153.2" width="16.3" height="23.8" rx="0" fill="#fff" stroke="#2a2523" stroke-width="1" />
<path d="M265.5 175 H281.8" stroke="#2a2523" stroke-width="0.7"/>
<path d="M266.4 177 V179.6 H280.9 V177" fill="#fff" stroke="#2a2523" stroke-width="0.9"/>
<path d="M266.4 178.4 H280.9" stroke="#2a2523" stroke-width="1.1"/>
<path d="M267 179.6 C267 183 269.2 185.2 273.7 185.2 C278.2 185.2 280.4 183 280.4 179.6 Z" fill="#fff" stroke="#2a2523" stroke-width="1"/>
<path d="M271.4 181.7 H276" stroke="#2a2523" stroke-width="1.6" stroke-linecap="round"/>
<rect x="300.9" y="135" width="69.8" height="26.5" rx="0.8" fill="#fff" stroke="#2a2523" stroke-width="1" />
<path d="M300.9 138.1 H370.7 M303 138.1 V161.5 M369 135 V138.1" stroke="#2a2523" stroke-width="0.7"/>
<path d="M314.8 148.4 V143 L317 142.4 L318.6 139.4 L323 139.6 L324.4 142 L327 142.6 V148.4 Z" fill="#2a2523"/>
<rect x="328" y="141.2" width="5.8" height="7" rx="0" fill="#2a2523" stroke="none" stroke-width="1" />
<rect x="335.5" y="141.6" width="14.8" height="6.1" rx="0" fill="#4a4645" stroke="#2a2523" stroke-width="1" />
<rect x="337.5" y="143" width="9.5" height="1.6" rx="0" fill="#9a9796" stroke="none" stroke-width="1" />
<path d="M346.5 142 l3 3" stroke="#2a2523" stroke-width="1.6"/>
<rect x="353" y="141.2" width="11.7" height="7" rx="0" fill="#2a2523" stroke="none" stroke-width="1" />
<path d="M354 143.2 H363.8 M354 145.4 H363.8" stroke="#777" stroke-width="0.6" stroke-dasharray="1.4 0.8"/>
<path d="M362 140.6 l4.5 -1.6" stroke="#777" stroke-width="0.5"/>
<rect x="312" y="149.8" width="56.4" height="10.2" rx="0" fill="#2a2523" stroke="none" stroke-width="1" />
<path d="M312.8 158.6 H368" stroke="#d8d6d5" stroke-width="1.5" stroke-dasharray="1.5 0.9"/>
<rect x="305.6" y="148.6" width="2" height="1.6" rx="0" fill="#2a2523" stroke="none" stroke-width="1" />
<rect x="304.9" y="151.9" width="1.6" height="4.9" rx="0" fill="#2a2523" stroke="none" stroke-width="1" />
<rect x="307.6" y="151.9" width="1.6" height="4.9" rx="0" fill="#2a2523" stroke="none" stroke-width="1" />
<path d="M304.4 157.9 H310.4" stroke="#2a2523" stroke-width="0.5"/>
<circle cx="404.9" cy="146.2" r="17.1" fill="#0d0b0b" stroke="none" stroke-width="1"/>
<circle cx="404.9" cy="146.2" r="6.4" fill="none" stroke="#fff" stroke-width="1.25"/>
<circle cx="404.9" cy="146.2" r="3.4" fill="#fff" stroke="none" stroke-width="1"/>
<rect x="450" y="50" width="89.4" height="17.3" rx="1" fill="#fff" stroke="#2a2523" stroke-width="1.1" />
<path d="M453 50 V67.3 M460.3 50 V67.3 M529.3 50 V67.3 M537 50 V67.3" stroke="#2a2523" stroke-width="0.6"/>
<rect x="455.6" y="52.7" width="3.7" height="12.3" rx="0.5" fill="#fff" stroke="#2a2523" stroke-width="0.8" />
<rect x="530.2" y="52.7" width="3.7" height="12.3" rx="0.5" fill="#fff" stroke="#2a2523" stroke-width="0.8" />
<rect x="461.9" y="53" width="34.4" height="12.6" rx="0" fill="#4c4847" stroke="none" stroke-width="1" />
<path d="M462.9 53 V65.6" stroke="#2a2523" stroke-width="0.9"/>
<path d="M464.9 53 V65.6" stroke="#2a2523" stroke-width="0.9"/>
<path d="M466.9 53 V65.6" stroke="#2a2523" stroke-width="0.9"/>
<path d="M468.9 53 V65.6" stroke="#2a2523" stroke-width="0.9"/>
<path d="M470.9 53 V65.6" stroke="#2a2523" stroke-width="0.9"/>
<path d="M472.9 53 V65.6" stroke="#2a2523" stroke-width="0.9"/>
<path d="M474.9 53 V65.6" stroke="#2a2523" stroke-width="0.9"/>
<path d="M476.9 53 V65.6" stroke="#2a2523" stroke-width="0.9"/>
<path d="M478.9 53 V65.6" stroke="#2a2523" stroke-width="0.9"/>
<path d="M480.9 53 V65.6" stroke="#2a2523" stroke-width="0.9"/>
<path d="M482.9 53 V65.6" stroke="#2a2523" stroke-width="0.9"/>
<path d="M484.9 53 V65.6" stroke="#2a2523" stroke-width="0.9"/>
<path d="M486.9 53 V65.6" stroke="#2a2523" stroke-width="0.9"/>
<path d="M488.9 53 V65.6" stroke="#2a2523" stroke-width="0.9"/>
<path d="M490.9 53 V65.6" stroke="#2a2523" stroke-width="0.9"/>
<path d="M492.9 53 V65.6" stroke="#2a2523" stroke-width="0.9"/>
<path d="M494.9 53 V65.6" stroke="#2a2523" stroke-width="0.9"/>
<path d="M461.9 54 H496.3" stroke="#2a2523" stroke-width="0.7"/>
<path d="M461.9 56.1 H496.3" stroke="#2a2523" stroke-width="0.7"/>
<path d="M461.9 58.2 H496.3" stroke="#2a2523" stroke-width="0.7"/>
<path d="M461.9 60.3 H496.3" stroke="#2a2523" stroke-width="0.7"/>
<path d="M461.9 62.4 H496.3" stroke="#2a2523" stroke-width="0.7"/>
<path d="M461.9 64.5 H496.3" stroke="#2a2523" stroke-width="0.7"/>
<path d="M478.8 53 V65.6 M461.9 59.4 H496.3" stroke="#7d7978" stroke-width="0.6"/>
<rect x="498.8" y="52.7" width="25" height="3.4" rx="0" fill="#fff" stroke="#2a2523" stroke-width="0.8" />
<circle cx="500.9" cy="63" r="2.4" fill="#fff" stroke="#2a2523" stroke-width="1.1"/>
<path d="M499.5 64.8 L502.3 61.2" stroke="#2a2523" stroke-width="1"/>
<path d="M499.7 58.8 h2.4" stroke="#888" stroke-width="0.5"/>
<circle cx="507.2" cy="63" r="2.4" fill="#fff" stroke="#2a2523" stroke-width="1.1"/>
<path d="M505.8 64.8 L508.6 61.2" stroke="#2a2523" stroke-width="1"/>
<path d="M506 58.8 h2.4" stroke="#888" stroke-width="0.5"/>
<circle cx="513.7" cy="63" r="2.4" fill="#fff" stroke="#2a2523" stroke-width="1.1"/>
<path d="M512.3 64.8 L515.1 61.2" stroke="#2a2523" stroke-width="1"/>
<path d="M512.5 58.8 h2.4" stroke="#888" stroke-width="0.5"/>
<circle cx="520" cy="63" r="2.4" fill="#fff" stroke="#2a2523" stroke-width="1.1"/>
<path d="M518.6 64.8 L521.4 61.2" stroke="#2a2523" stroke-width="1"/>
<path d="M518.8 58.8 h2.4" stroke="#888" stroke-width="0.5"/>
<rect x="463.8" y="67.6" width="4.4" height="1.9" rx="0" fill="#fff" stroke="#2a2523" stroke-width="0.7" />
<rect x="520" y="67.6" width="4.4" height="1.9" rx="0" fill="#fff" stroke="#2a2523" stroke-width="0.7" />
<rect x="572.5" y="50.4" width="26.1" height="40.2" rx="1.6" fill="#999593" stroke="#2a2523" stroke-width="1.3" />
<rect x="576.8" y="52.8" width="17.4" height="9.4" rx="0" fill="#fff" stroke="#2a2523" stroke-width="1.4" />
<path d="M577.4 53.6 C583 57.4 588 57.4 593.4 61.4 M577.4 61.4 C583 57.4 588 57.4 593.4 53.6" fill="none" stroke="#2a2523" stroke-width="1"/>
<rect x="574.2" y="63.7" width="22.8" height="25.3" rx="3.2" fill="#fff" stroke="#2a2523" stroke-width="1.5" />
<path d="M574.6 72.4 V66.9 Q574.6 64.1 577.4 64.1 H593.8 Q596.6 64.1 596.6 66.9 V72.4 Z" fill="#55504f"/>
<circle cx="585.6" cy="76.6" r="9.3" fill="#fff" stroke="#2a2523" stroke-width="2"/>
<circle cx="585.6" cy="76.6" r="7.3" fill="none" stroke="#b5b2b0" stroke-width="0.4"/>
<circle cx="585.6" cy="76.6" r="2.4" fill="#fff" stroke="#2a2523" stroke-width="1"/>
<circle cx="576.9" cy="66.9" r="0.9" fill="#fff" stroke="none" stroke-width="1"/>
<circle cx="594.3" cy="66.9" r="0.9" fill="#fff" stroke="none" stroke-width="1"/>
<path d="M573 89.2 H598.2" stroke="#2a2523" stroke-width="1.4"/>
<rect x="576" y="90.8" width="2.4" height="1" rx="0" fill="#2a2523" stroke="none" stroke-width="1" />
<rect x="592.6" y="90.8" width="2.4" height="1" rx="0" fill="#2a2523" stroke="none" stroke-width="1" />
<rect x="604.9" y="50.4" width="26.1" height="40.2" rx="1.6" fill="#999593" stroke="#2a2523" stroke-width="1.3" />
<rect x="609.2" y="52.8" width="17.4" height="9.4" rx="0" fill="#fff" stroke="#2a2523" stroke-width="1.4" />
<path d="M609.8 53.6 C615.4 57.4 620.4 57.4 625.8 61.4 M609.8 61.4 C615.4 57.4 620.4 57.4 625.8 53.6" fill="none" stroke="#2a2523" stroke-width="1"/>
<rect x="606.6" y="63.7" width="22.8" height="25.3" rx="3.2" fill="#fff" stroke="#2a2523" stroke-width="1.5" />
<path d="M607 72.4 V66.9 Q607 64.1 609.8 64.1 H626.2 Q629 64.1 629 66.9 V72.4 Z" fill="#55504f"/>
<circle cx="618" cy="76.6" r="9.3" fill="#fff" stroke="#2a2523" stroke-width="2"/>
<circle cx="618" cy="76.6" r="7.3" fill="none" stroke="#b5b2b0" stroke-width="0.4"/>
<circle cx="618" cy="76.6" r="2.4" fill="#fff" stroke="#2a2523" stroke-width="1"/>
<circle cx="609.3" cy="66.9" r="0.9" fill="#fff" stroke="none" stroke-width="1"/>
<circle cx="626.7" cy="66.9" r="0.9" fill="#fff" stroke="none" stroke-width="1"/>
<path d="M605.4 89.2 H630.6" stroke="#2a2523" stroke-width="1.4"/>
<rect x="608.4" y="90.8" width="2.4" height="1" rx="0" fill="#2a2523" stroke="none" stroke-width="1" />
<rect x="625" y="90.8" width="2.4" height="1" rx="0" fill="#2a2523" stroke="none" stroke-width="1" />
<rect x="562.3" y="135.7" width="78.8" height="14.7" rx="1" fill="#fff" stroke="#2a2523" stroke-width="1.1" />
<path d="M564.2 135.7 V150.4 M572 135.7 V150.4 M631.4 135.7 V150.4 M639.2 135.7 V150.4" stroke="#2a2523" stroke-width="0.6"/>
<rect x="566.2" y="138" width="3.8" height="11" rx="0.4" fill="#fff" stroke="#2a2523" stroke-width="0.8" />
<rect x="633.4" y="138" width="3.9" height="11" rx="0.4" fill="#fff" stroke="#2a2523" stroke-width="0.8" />
<rect x="580" y="142.6" width="3.6" height="4.8" rx="0" fill="#fff" stroke="#2a2523" stroke-width="0.8" />
<path d="M577.2 143.9 h2.4 M577.2 146.1 h2.4 M581.8 142.6 V147.4 M580 145 H583.6" stroke="#2a2523" stroke-width="0.7"/>
<circle cx="609.9" cy="145.3" r="2.8" fill="#fff" stroke="#2a2523" stroke-width="1.25"/>
<path d="M608.3 147.8 L611.5 142.8" stroke="#2a2523" stroke-width="1.2"/>
<path d="M608.6 140.9 l0.5 -1.5 M611.2 140.9 l-0.5 -1.5" stroke="#2a2523" stroke-width="0.8"/>
<circle cx="621" cy="145.3" r="2.8" fill="#fff" stroke="#2a2523" stroke-width="1.25"/>
<path d="M619.4 147.8 L622.6 142.8" stroke="#2a2523" stroke-width="1.2"/>
<path d="M619.7 140.9 l0.5 -1.5 M622.3 140.9 l-0.5 -1.5" stroke="#2a2523" stroke-width="0.8"/>
<rect x="573" y="150.7" width="4.6" height="1.9" rx="0" fill="#fff" stroke="#2a2523" stroke-width="0.7" />
<rect x="623.6" y="150.7" width="4.6" height="1.9" rx="0" fill="#fff" stroke="#2a2523" stroke-width="0.7" />
<g transform="translate(0 0.7)">
<rect x="605" y="343.2" width="44" height="24.8" rx="0.9" fill="#fff" stroke="#2a2523" stroke-width="1.5" />
<path d="M605 368 L598.6 381.6 H655.6 L649 368 Z" fill="#fff" stroke="#2a2523" stroke-width="1.5" stroke-linejoin="round"/>
<path d="M607.3 370.3 H647.2" stroke="#2a2523" stroke-width="0.7"/>
<rect x="605.6" y="372.2" width="43" height="3.3" rx="0" fill="#a3a1a0" stroke="#55504f" stroke-width="0.6" />
<path d="M622.2 378.3 H631" stroke="#2a2523" stroke-width="1.7" stroke-linecap="round"/>
<path d="M605.6 355.6 C608 355.2 610 357.6 612.6 357.4 L613.6 355 L614.6 358.4 L615.6 354.4 L616.8 358.8 L618 352.6 L619.2 359.4 L620.6 351 L621.9 361.8 L623.2 350.4 L624.4 358.4 L625.6 354.6 L626.8 357.6 L628.2 352.4 L629.6 357.8 L631 353.6 L632.2 356.6 L633.6 350.2 L635.4 356 L636.6 359.2 L637.8 354.2 L639.4 356.2 C642 355.4 645 356.6 648.4 356.2" fill="none" stroke="#2a2523" stroke-width="0.9" stroke-linejoin="round"/>
</g>
<rect x="616.2" y="422.2" width="22.6" height="14" rx="0.6" fill="#fff" stroke="#2a2523" stroke-width="1.4" />
<rect x="622" y="429.8" width="3.6" height="1.6" rx="0" fill="#2a2523" stroke="none" stroke-width="1" />
<rect x="629.6" y="429.8" width="3.6" height="1.6" rx="0" fill="#2a2523" stroke="none" stroke-width="1" />
<path d="M613.6 438 H640.6 V471 Q640.6 476 635.6 476 H618.6 Q613.6 476 613.6 471 Z" fill="#2a2523"/>
<path d="M621.6 451.6 H633.8 L627.7 462.2 Z" fill="#fff"/>
<rect x="605.6" y="497" width="44" height="69" rx="4.2" fill="#fff" stroke="#3a3635" stroke-width="1.2" />
<rect x="609.2" y="503.2" width="36.8" height="52" rx="0" fill="#9f9d9d" stroke="#3f3b3a" stroke-width="1" />
<path d="M624 500 H631" stroke="#2a2523" stroke-width="1.5" stroke-linecap="round"/>
<circle cx="627.5" cy="560.7" r="2.5" fill="#fff" stroke="#2a2523" stroke-width="1"/>
<path d="M588.66 520.13 A19 19 0 0 0 588.66 545.07" fill="none" stroke="#2a2523" stroke-width="1.4" stroke-linecap="round"/>
<path d="M594.13 523.09 A13 13 0 0 0 594.13 542.11" fill="none" stroke="#2a2523" stroke-width="1.4" stroke-linecap="round"/>
<path d="M598.7 525.15 A8.6 8.6 0 0 0 598.7 540.05" fill="none" stroke="#2a2523" stroke-width="1.4" stroke-linecap="round"/>
<path d="M629.58 489.31 A2.7 2.7 0 0 1 631.99 491.72" fill="none" stroke="#2a2523" stroke-width="1.6"/>
<path d="M629.89 486.43 A5.6 5.6 0 0 1 634.87 491.41" fill="none" stroke="#2a2523" stroke-width="1.6"/>
<path d="M630.2 483.45 A8.6 8.6 0 0 1 637.85 491.1" fill="none" stroke="#2a2523" stroke-width="1.6"/>
<rect x="413.1" y="516.9" width="17.7" height="32.9" rx="2.2" fill="#2a2523" stroke="none" stroke-width="1" />
<rect x="415.1" y="518.9" width="13.7" height="13.3" rx="0.6" fill="#fff" stroke="none" stroke-width="1" />
<path d="M420.4 529.6 V521.6 L425.8 520.3 V528.4" fill="none" stroke="#2a2523" stroke-width="1.0"/>
<path d="M420.4 521.6 L425.8 520.3 V522.0 L420.4 523.3 Z" fill="#2a2523"/>
<ellipse cx="419.2" cy="529.8" rx="1.6" ry="1.2" fill="#2a2523" stroke="none" stroke-width="1" />
<ellipse cx="424.6" cy="528.6" rx="1.6" ry="1.2" fill="#2a2523" stroke="none" stroke-width="1" />
<path d="M416.2 539.8 H420.2 V536 H423.8 V539.8 H427.8 V543.4 H423.8 V547.2 H420.2 V543.4 H416.2 Z" fill="#fff"/>
<path d="M517.8 541 C514 520 522 512 535.4 512 C549 512 557 521 552.6 540 L548.4 538.6 C551.6 524 546 516.4 535.4 516.4 C525 516.4 519.4 524 522.4 540.4 Z" fill="#3d3938" stroke="#2a2523" stroke-width="0.5" stroke-linejoin="round"/>
<path d="M520 537 C517.4 523 524 514.4 535.4 514.2 C547 514.4 553.6 523 550.6 537" fill="none" stroke="#8a8685" stroke-width="0.5"/>
<ellipse cx="525.2" cy="542.6" rx="7.2" ry="8.2" fill="#2a2523" stroke="none" stroke-width="1" transform="rotate(-6 525.2 542.6)"/>
<ellipse cx="527" cy="542.7" rx="4.4" ry="6.1" fill="#fff" stroke="none" stroke-width="1" transform="rotate(-6 527 542.7)"/>
<ellipse cx="527.6" cy="542.8" rx="1.5" ry="3" fill="none" stroke="#55504f" stroke-width="0.7" />
<ellipse cx="543" cy="545.5" rx="7.7" ry="8.4" fill="#fff" stroke="#2a2523" stroke-width="1.3" transform="rotate(-6 543 545.5)"/>
<ellipse cx="541.4" cy="545.4" rx="6.2" ry="7.8" fill="#524e4d" stroke="none" stroke-width="1" transform="rotate(-6 541.4 545.4)"/>
<ellipse cx="539.6" cy="545.3" rx="4.4" ry="7.2" fill="none" stroke="#c9c6c5" stroke-width="0.5" transform="rotate(-6 539.6 545.3)"/>
<ellipse cx="540.4" cy="545.4" rx="5" ry="7.4" fill="none" stroke="#d5d3d2" stroke-width="0.6" transform="rotate(-6 540.4 545.4)"/>
<ellipse cx="546" cy="545.9" rx="4.4" ry="6.5" fill="#fff" stroke="#2a2523" stroke-width="1" transform="rotate(-6 546 545.9)"/>
</g>
<g id="labels">
<text x="495" y="45" font-size="10.2" text-anchor="middle" textLength="88" lengthAdjust="spacing" fill="#3c3a3a" stroke="#3c3a3a" stroke-width="0.22">Audio processor</text>
<text x="601.5" y="43.6" font-size="10.2" text-anchor="middle" textLength="49" lengthAdjust="spacing" fill="#3c3a3a" stroke="#3c3a3a" stroke-width="0.22">Speakers</text>
<text x="601.3" y="130.6" font-size="10.2" text-anchor="middle" textLength="75.4" lengthAdjust="spacing" fill="#3c3a3a" stroke="#3c3a3a" stroke-width="0.22">Power amplifier</text>
<text x="157.5" y="122.5" font-size="10.2" text-anchor="middle" textLength="29" lengthAdjust="spacing" fill="#3c3a3a" stroke="#3c3a3a" stroke-width="0.22">Guitar</text>
<text x="209.3" y="111" font-size="10.2" text-anchor="middle" textLength="42.6" lengthAdjust="spacing" fill="#3c3a3a" stroke="#3c3a3a" stroke-width="0.22">Dynamic</text>
<text x="208.8" y="122.5" font-size="10.2" text-anchor="middle" textLength="57.6" lengthAdjust="spacing" fill="#3c3a3a" stroke="#3c3a3a" stroke-width="0.22">Microphone</text>
<text x="273.6" y="111" font-size="10.2" text-anchor="middle" textLength="53.2" lengthAdjust="spacing" fill="#3c3a3a" stroke="#3c3a3a" stroke-width="0.22">Condenser</text>
<text x="273.5" y="122.5" font-size="10.2" text-anchor="middle" textLength="57.4" lengthAdjust="spacing" fill="#3c3a3a" stroke="#3c3a3a" stroke-width="0.22">Microphone</text>
<text x="335.8" y="122.5" font-size="10.2" text-anchor="middle" textLength="50.4" lengthAdjust="spacing" fill="#3c3a3a" stroke="#3c3a3a" stroke-width="0.22">Syntesizer</text>
<text x="405.5" y="122.5" font-size="10.2" text-anchor="middle" textLength="13.8" lengthAdjust="spacing" fill="#3c3a3a" stroke="#3c3a3a" stroke-width="0.22">CD</text>
<text x="627" y="337.4" font-size="10.2" text-anchor="middle" textLength="92" lengthAdjust="spacing" fill="#3c3a3a" stroke="#3c3a3a" stroke-width="0.22">PC Play and record</text>
<text x="626.9" y="405.9" font-size="10.2" text-anchor="middle" textLength="55" lengthAdjust="spacing" fill="#3c3a3a" stroke="#3c3a3a" stroke-width="0.22">U-Disk Play</text>
<text x="627" y="417.1" font-size="10.2" text-anchor="middle" textLength="52" lengthAdjust="spacing" fill="#3c3a3a" stroke="#3c3a3a" stroke-width="0.22">and record</text>
<text x="422" y="505.2" font-size="10.2" text-anchor="middle" textLength="77.6" lengthAdjust="spacing" fill="#3c3a3a" stroke="#3c3a3a" stroke-width="0.22">External Audio</text>
<text x="534.6" y="505.2" font-size="10.2" text-anchor="middle" textLength="66.8" lengthAdjust="spacing" fill="#3c3a3a" stroke="#3c3a3a" stroke-width="0.22">Headphones</text>
<text x="622" y="491.8" font-size="8.9" text-anchor="middle" textLength="11.6" lengthAdjust="spacing" fill="#3c3a3a" stroke="#3c3a3a" stroke-width="0.22">BT</text>
</g>
</g>
</svg>
</body>
</html>
